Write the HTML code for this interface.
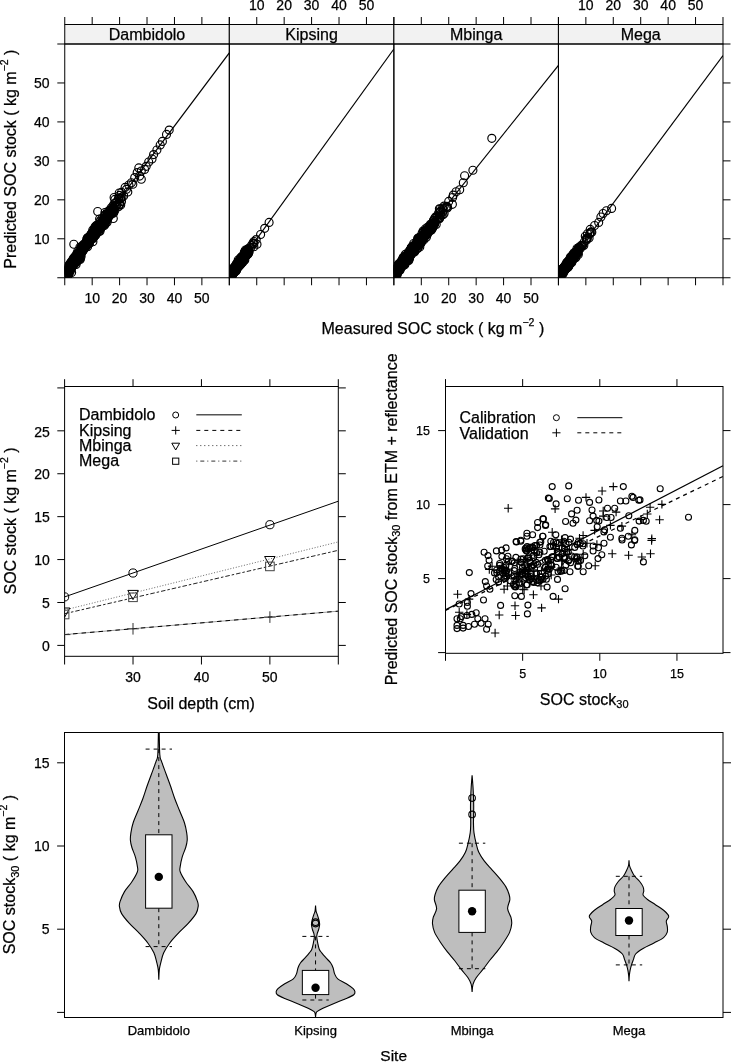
<!DOCTYPE html>
<html><head><meta charset="utf-8"><style>
html,body{margin:0;padding:0;background:#fff;}
svg{display:block;font-family:"Liberation Sans", sans-serif;will-change:transform;}
text{fill:#000;stroke:#000;stroke-width:0.25px;}
</style></head><body>
<svg width="731" height="1062" viewBox="0 0 731 1062">
<rect width="731" height="1062" fill="#fff"/>
<rect x="64.75" y="24.50" width="164.56" height="19.50" fill="#f2f2f2" stroke="#000" stroke-width="1"/>
<rect x="229.31" y="24.50" width="164.56" height="19.50" fill="#f2f2f2" stroke="#000" stroke-width="1"/>
<rect x="393.87" y="24.50" width="164.56" height="19.50" fill="#f2f2f2" stroke="#000" stroke-width="1"/>
<rect x="558.43" y="24.50" width="164.56" height="19.50" fill="#f2f2f2" stroke="#000" stroke-width="1"/>
<text x="147.03" y="39.80" font-size="16" text-anchor="middle">Dambidolo</text>
<text x="311.59" y="39.80" font-size="16" text-anchor="middle">Kipsing</text>
<text x="476.15" y="39.80" font-size="16" text-anchor="middle">Mbinga</text>
<text x="640.71" y="39.80" font-size="16" text-anchor="middle">Mega</text>
<line x1="64.75" y1="17.00" x2="64.75" y2="24.50" stroke="#000" stroke-width="1"/>
<line x1="64.75" y1="277.75" x2="64.75" y2="285.25" stroke="#000" stroke-width="1"/>
<line x1="92.18" y1="17.00" x2="92.18" y2="24.50" stroke="#000" stroke-width="1"/>
<line x1="92.18" y1="277.75" x2="92.18" y2="285.25" stroke="#000" stroke-width="1"/>
<line x1="119.60" y1="17.00" x2="119.60" y2="24.50" stroke="#000" stroke-width="1"/>
<line x1="119.60" y1="277.75" x2="119.60" y2="285.25" stroke="#000" stroke-width="1"/>
<line x1="147.03" y1="17.00" x2="147.03" y2="24.50" stroke="#000" stroke-width="1"/>
<line x1="147.03" y1="277.75" x2="147.03" y2="285.25" stroke="#000" stroke-width="1"/>
<line x1="174.46" y1="17.00" x2="174.46" y2="24.50" stroke="#000" stroke-width="1"/>
<line x1="174.46" y1="277.75" x2="174.46" y2="285.25" stroke="#000" stroke-width="1"/>
<line x1="201.88" y1="17.00" x2="201.88" y2="24.50" stroke="#000" stroke-width="1"/>
<line x1="201.88" y1="277.75" x2="201.88" y2="285.25" stroke="#000" stroke-width="1"/>
<line x1="229.31" y1="17.00" x2="229.31" y2="24.50" stroke="#000" stroke-width="1"/>
<line x1="229.31" y1="277.75" x2="229.31" y2="285.25" stroke="#000" stroke-width="1"/>
<line x1="229.31" y1="17.00" x2="229.31" y2="24.50" stroke="#000" stroke-width="1"/>
<line x1="229.31" y1="277.75" x2="229.31" y2="285.25" stroke="#000" stroke-width="1"/>
<line x1="256.74" y1="17.00" x2="256.74" y2="24.50" stroke="#000" stroke-width="1"/>
<line x1="256.74" y1="277.75" x2="256.74" y2="285.25" stroke="#000" stroke-width="1"/>
<line x1="284.16" y1="17.00" x2="284.16" y2="24.50" stroke="#000" stroke-width="1"/>
<line x1="284.16" y1="277.75" x2="284.16" y2="285.25" stroke="#000" stroke-width="1"/>
<line x1="311.59" y1="17.00" x2="311.59" y2="24.50" stroke="#000" stroke-width="1"/>
<line x1="311.59" y1="277.75" x2="311.59" y2="285.25" stroke="#000" stroke-width="1"/>
<line x1="339.02" y1="17.00" x2="339.02" y2="24.50" stroke="#000" stroke-width="1"/>
<line x1="339.02" y1="277.75" x2="339.02" y2="285.25" stroke="#000" stroke-width="1"/>
<line x1="366.44" y1="17.00" x2="366.44" y2="24.50" stroke="#000" stroke-width="1"/>
<line x1="366.44" y1="277.75" x2="366.44" y2="285.25" stroke="#000" stroke-width="1"/>
<line x1="393.87" y1="17.00" x2="393.87" y2="24.50" stroke="#000" stroke-width="1"/>
<line x1="393.87" y1="277.75" x2="393.87" y2="285.25" stroke="#000" stroke-width="1"/>
<line x1="393.87" y1="17.00" x2="393.87" y2="24.50" stroke="#000" stroke-width="1"/>
<line x1="393.87" y1="277.75" x2="393.87" y2="285.25" stroke="#000" stroke-width="1"/>
<line x1="421.30" y1="17.00" x2="421.30" y2="24.50" stroke="#000" stroke-width="1"/>
<line x1="421.30" y1="277.75" x2="421.30" y2="285.25" stroke="#000" stroke-width="1"/>
<line x1="448.72" y1="17.00" x2="448.72" y2="24.50" stroke="#000" stroke-width="1"/>
<line x1="448.72" y1="277.75" x2="448.72" y2="285.25" stroke="#000" stroke-width="1"/>
<line x1="476.15" y1="17.00" x2="476.15" y2="24.50" stroke="#000" stroke-width="1"/>
<line x1="476.15" y1="277.75" x2="476.15" y2="285.25" stroke="#000" stroke-width="1"/>
<line x1="503.58" y1="17.00" x2="503.58" y2="24.50" stroke="#000" stroke-width="1"/>
<line x1="503.58" y1="277.75" x2="503.58" y2="285.25" stroke="#000" stroke-width="1"/>
<line x1="531.00" y1="17.00" x2="531.00" y2="24.50" stroke="#000" stroke-width="1"/>
<line x1="531.00" y1="277.75" x2="531.00" y2="285.25" stroke="#000" stroke-width="1"/>
<line x1="558.43" y1="17.00" x2="558.43" y2="24.50" stroke="#000" stroke-width="1"/>
<line x1="558.43" y1="277.75" x2="558.43" y2="285.25" stroke="#000" stroke-width="1"/>
<line x1="558.43" y1="17.00" x2="558.43" y2="24.50" stroke="#000" stroke-width="1"/>
<line x1="558.43" y1="277.75" x2="558.43" y2="285.25" stroke="#000" stroke-width="1"/>
<line x1="585.86" y1="17.00" x2="585.86" y2="24.50" stroke="#000" stroke-width="1"/>
<line x1="585.86" y1="277.75" x2="585.86" y2="285.25" stroke="#000" stroke-width="1"/>
<line x1="613.28" y1="17.00" x2="613.28" y2="24.50" stroke="#000" stroke-width="1"/>
<line x1="613.28" y1="277.75" x2="613.28" y2="285.25" stroke="#000" stroke-width="1"/>
<line x1="640.71" y1="17.00" x2="640.71" y2="24.50" stroke="#000" stroke-width="1"/>
<line x1="640.71" y1="277.75" x2="640.71" y2="285.25" stroke="#000" stroke-width="1"/>
<line x1="668.14" y1="17.00" x2="668.14" y2="24.50" stroke="#000" stroke-width="1"/>
<line x1="668.14" y1="277.75" x2="668.14" y2="285.25" stroke="#000" stroke-width="1"/>
<line x1="695.56" y1="17.00" x2="695.56" y2="24.50" stroke="#000" stroke-width="1"/>
<line x1="695.56" y1="277.75" x2="695.56" y2="285.25" stroke="#000" stroke-width="1"/>
<line x1="722.99" y1="17.00" x2="722.99" y2="24.50" stroke="#000" stroke-width="1"/>
<line x1="722.99" y1="277.75" x2="722.99" y2="285.25" stroke="#000" stroke-width="1"/>
<line x1="57.30" y1="277.75" x2="64.75" y2="277.75" stroke="#000" stroke-width="1"/>
<line x1="722.99" y1="277.75" x2="730.50" y2="277.75" stroke="#000" stroke-width="1"/>
<line x1="57.30" y1="238.79" x2="64.75" y2="238.79" stroke="#000" stroke-width="1"/>
<line x1="722.99" y1="238.79" x2="730.50" y2="238.79" stroke="#000" stroke-width="1"/>
<text x="49.60" y="243.79" font-size="14" text-anchor="end">10</text>
<line x1="57.30" y1="199.83" x2="64.75" y2="199.83" stroke="#000" stroke-width="1"/>
<line x1="722.99" y1="199.83" x2="730.50" y2="199.83" stroke="#000" stroke-width="1"/>
<text x="49.60" y="204.83" font-size="14" text-anchor="end">20</text>
<line x1="57.30" y1="160.88" x2="64.75" y2="160.88" stroke="#000" stroke-width="1"/>
<line x1="722.99" y1="160.88" x2="730.50" y2="160.88" stroke="#000" stroke-width="1"/>
<text x="49.60" y="165.88" font-size="14" text-anchor="end">30</text>
<line x1="57.30" y1="121.92" x2="64.75" y2="121.92" stroke="#000" stroke-width="1"/>
<line x1="722.99" y1="121.92" x2="730.50" y2="121.92" stroke="#000" stroke-width="1"/>
<text x="49.60" y="126.92" font-size="14" text-anchor="end">40</text>
<line x1="57.30" y1="82.96" x2="64.75" y2="82.96" stroke="#000" stroke-width="1"/>
<line x1="722.99" y1="82.96" x2="730.50" y2="82.96" stroke="#000" stroke-width="1"/>
<text x="49.60" y="87.96" font-size="14" text-anchor="end">50</text>
<line x1="57.30" y1="44.00" x2="64.75" y2="44.00" stroke="#000" stroke-width="1"/>
<line x1="722.99" y1="44.00" x2="730.50" y2="44.00" stroke="#000" stroke-width="1"/>
<text x="92.18" y="302.80" font-size="14" text-anchor="middle">10</text>
<text x="119.60" y="302.80" font-size="14" text-anchor="middle">20</text>
<text x="147.03" y="302.80" font-size="14" text-anchor="middle">30</text>
<text x="174.46" y="302.80" font-size="14" text-anchor="middle">40</text>
<text x="201.88" y="302.80" font-size="14" text-anchor="middle">50</text>
<text x="256.74" y="9.70" font-size="14" text-anchor="middle">10</text>
<text x="284.16" y="9.70" font-size="14" text-anchor="middle">20</text>
<text x="311.59" y="9.70" font-size="14" text-anchor="middle">30</text>
<text x="339.02" y="9.70" font-size="14" text-anchor="middle">40</text>
<text x="366.44" y="9.70" font-size="14" text-anchor="middle">50</text>
<text x="421.30" y="302.80" font-size="14" text-anchor="middle">10</text>
<text x="448.72" y="302.80" font-size="14" text-anchor="middle">20</text>
<text x="476.15" y="302.80" font-size="14" text-anchor="middle">30</text>
<text x="503.58" y="302.80" font-size="14" text-anchor="middle">40</text>
<text x="531.00" y="302.80" font-size="14" text-anchor="middle">50</text>
<text x="585.86" y="9.70" font-size="14" text-anchor="middle">10</text>
<text x="613.28" y="9.70" font-size="14" text-anchor="middle">20</text>
<text x="640.71" y="9.70" font-size="14" text-anchor="middle">30</text>
<text x="668.14" y="9.70" font-size="14" text-anchor="middle">40</text>
<text x="695.56" y="9.70" font-size="14" text-anchor="middle">50</text>
<g fill="none" stroke="#000" stroke-width="1.15">
<clipPath id="cp0"><rect x="64.75" y="44.0" width="164.56" height="233.75"/></clipPath>
<g clip-path="url(#cp0)">
<circle cx="73.6" cy="258.1" r="4"/>
<circle cx="77.1" cy="258.4" r="4"/>
<circle cx="75.6" cy="261.6" r="4"/>
<circle cx="68.5" cy="268.8" r="4"/>
<circle cx="69.4" cy="264.9" r="4"/>
<circle cx="76.8" cy="260.7" r="4"/>
<circle cx="65.6" cy="274.2" r="4"/>
<circle cx="76.2" cy="259.7" r="4"/>
<circle cx="75.8" cy="262.8" r="4"/>
<circle cx="71.6" cy="263.3" r="4"/>
<circle cx="69.5" cy="268.2" r="4"/>
<circle cx="69.2" cy="268.4" r="4"/>
<circle cx="68.9" cy="270.8" r="4"/>
<circle cx="71.3" cy="264.3" r="4"/>
<circle cx="72.1" cy="265.5" r="4"/>
<circle cx="72.7" cy="263.7" r="4"/>
<circle cx="78.4" cy="257.6" r="4"/>
<circle cx="75.8" cy="261.7" r="4"/>
<circle cx="73.6" cy="258.9" r="4"/>
<circle cx="78.3" cy="256.3" r="4"/>
<circle cx="68.3" cy="269.1" r="4"/>
<circle cx="67.6" cy="270.9" r="4"/>
<circle cx="73.5" cy="263.3" r="4"/>
<circle cx="66.1" cy="274.2" r="4"/>
<circle cx="66.0" cy="271.7" r="4"/>
<circle cx="72.2" cy="264.8" r="4"/>
<circle cx="71.6" cy="265.4" r="4"/>
<circle cx="77.4" cy="256.4" r="4"/>
<circle cx="73.7" cy="259.2" r="4"/>
<circle cx="72.2" cy="262.5" r="4"/>
<circle cx="72.0" cy="263.5" r="4"/>
<circle cx="68.8" cy="270.5" r="4"/>
<circle cx="65.7" cy="276.9" r="4"/>
<circle cx="68.1" cy="268.0" r="4"/>
<circle cx="74.5" cy="258.5" r="4"/>
<circle cx="68.2" cy="270.4" r="4"/>
<circle cx="70.3" cy="265.6" r="4"/>
<circle cx="65.6" cy="271.9" r="4"/>
<circle cx="76.3" cy="256.2" r="4"/>
<circle cx="67.6" cy="268.8" r="4"/>
<circle cx="69.0" cy="269.8" r="4"/>
<circle cx="76.9" cy="253.6" r="4"/>
<circle cx="72.1" cy="267.1" r="4"/>
<circle cx="76.5" cy="255.8" r="4"/>
<circle cx="73.8" cy="260.6" r="4"/>
<circle cx="75.1" cy="257.7" r="4"/>
<circle cx="66.8" cy="267.7" r="4"/>
<circle cx="72.5" cy="260.1" r="4"/>
<circle cx="72.1" cy="266.9" r="4"/>
<circle cx="76.8" cy="261.3" r="4"/>
<circle cx="70.2" cy="265.1" r="4"/>
<circle cx="73.3" cy="264.9" r="4"/>
<circle cx="66.3" cy="272.8" r="4"/>
<circle cx="70.6" cy="264.5" r="4"/>
<circle cx="69.7" cy="271.6" r="4"/>
<circle cx="67.5" cy="275.9" r="4"/>
<circle cx="76.1" cy="257.8" r="4"/>
<circle cx="70.5" cy="266.6" r="4"/>
<circle cx="78.2" cy="255.9" r="4"/>
<circle cx="73.2" cy="262.6" r="4"/>
<circle cx="73.4" cy="264.4" r="4"/>
<circle cx="73.8" cy="265.3" r="4"/>
<circle cx="74.3" cy="261.4" r="4"/>
<circle cx="67.5" cy="273.3" r="4"/>
<circle cx="71.2" cy="269.3" r="4"/>
<circle cx="68.7" cy="268.1" r="4"/>
<circle cx="70.8" cy="266.4" r="4"/>
<circle cx="66.8" cy="271.1" r="4"/>
<circle cx="78.0" cy="257.8" r="4"/>
<circle cx="68.3" cy="271.3" r="4"/>
<circle cx="74.2" cy="263.4" r="4"/>
<circle cx="69.4" cy="270.2" r="4"/>
<circle cx="76.8" cy="256.8" r="4"/>
<circle cx="74.1" cy="263.1" r="4"/>
<circle cx="67.3" cy="270.5" r="4"/>
<circle cx="76.5" cy="257.0" r="4"/>
<circle cx="77.8" cy="251.2" r="4"/>
<circle cx="77.2" cy="260.0" r="4"/>
<circle cx="72.9" cy="261.0" r="4"/>
<circle cx="67.4" cy="271.3" r="4"/>
<circle cx="68.1" cy="270.2" r="4"/>
<circle cx="77.5" cy="259.6" r="4"/>
<circle cx="72.7" cy="264.4" r="4"/>
<circle cx="67.9" cy="268.7" r="4"/>
<circle cx="77.0" cy="257.3" r="4"/>
<circle cx="73.8" cy="261.5" r="4"/>
<circle cx="72.9" cy="263.7" r="4"/>
<circle cx="70.4" cy="264.0" r="4"/>
<circle cx="70.9" cy="266.1" r="4"/>
<circle cx="68.7" cy="274.5" r="4"/>
<circle cx="66.1" cy="274.7" r="4"/>
<circle cx="76.9" cy="261.8" r="4"/>
<circle cx="71.6" cy="272.6" r="4"/>
<circle cx="72.6" cy="264.7" r="4"/>
<circle cx="69.7" cy="264.6" r="4"/>
<circle cx="75.3" cy="259.5" r="4"/>
<circle cx="65.9" cy="276.1" r="4"/>
<circle cx="70.4" cy="269.0" r="4"/>
<circle cx="66.0" cy="270.6" r="4"/>
<circle cx="67.2" cy="271.2" r="4"/>
<circle cx="78.0" cy="255.4" r="4"/>
<circle cx="74.1" cy="261.5" r="4"/>
<circle cx="71.1" cy="265.6" r="4"/>
<circle cx="72.3" cy="262.0" r="4"/>
<circle cx="76.8" cy="256.0" r="4"/>
<circle cx="70.0" cy="266.8" r="4"/>
<circle cx="73.2" cy="265.1" r="4"/>
<circle cx="74.4" cy="259.7" r="4"/>
<circle cx="70.2" cy="268.7" r="4"/>
<circle cx="72.3" cy="261.4" r="4"/>
<circle cx="75.4" cy="262.3" r="4"/>
<circle cx="77.3" cy="256.9" r="4"/>
<circle cx="67.5" cy="271.0" r="4"/>
<circle cx="77.6" cy="259.2" r="4"/>
<circle cx="65.6" cy="269.7" r="4"/>
<circle cx="75.3" cy="256.1" r="4"/>
<circle cx="76.0" cy="259.6" r="4"/>
<circle cx="67.3" cy="269.5" r="4"/>
<circle cx="71.0" cy="265.0" r="4"/>
<circle cx="76.1" cy="264.5" r="4"/>
<circle cx="65.8" cy="273.0" r="4"/>
<circle cx="73.7" cy="262.1" r="4"/>
<circle cx="75.8" cy="258.6" r="4"/>
<circle cx="72.2" cy="266.6" r="4"/>
<circle cx="74.9" cy="260.7" r="4"/>
<circle cx="68.5" cy="270.0" r="4"/>
<circle cx="68.1" cy="267.3" r="4"/>
<circle cx="70.3" cy="266.2" r="4"/>
<circle cx="67.9" cy="270.5" r="4"/>
<circle cx="70.0" cy="263.7" r="4"/>
<circle cx="77.8" cy="257.2" r="4"/>
<circle cx="73.0" cy="263.9" r="4"/>
<circle cx="70.0" cy="271.7" r="4"/>
<circle cx="69.1" cy="265.0" r="4"/>
<circle cx="77.8" cy="253.5" r="4"/>
<circle cx="71.3" cy="263.3" r="4"/>
<circle cx="78.2" cy="253.7" r="4"/>
<circle cx="72.2" cy="263.8" r="4"/>
<circle cx="72.3" cy="263.5" r="4"/>
<circle cx="77.1" cy="257.4" r="4"/>
<circle cx="75.1" cy="260.2" r="4"/>
<circle cx="73.1" cy="262.7" r="4"/>
<circle cx="71.1" cy="262.2" r="4"/>
<circle cx="76.9" cy="255.9" r="4"/>
<circle cx="70.9" cy="266.2" r="4"/>
<circle cx="77.5" cy="257.7" r="4"/>
<circle cx="66.5" cy="274.0" r="4"/>
<circle cx="71.1" cy="262.0" r="4"/>
<circle cx="72.3" cy="262.8" r="4"/>
<circle cx="77.8" cy="255.7" r="4"/>
<circle cx="68.8" cy="269.9" r="4"/>
<circle cx="76.0" cy="261.1" r="4"/>
<circle cx="74.3" cy="261.2" r="4"/>
<circle cx="74.8" cy="258.2" r="4"/>
<circle cx="73.7" cy="262.8" r="4"/>
<circle cx="78.1" cy="256.0" r="4"/>
<circle cx="69.9" cy="268.1" r="4"/>
<circle cx="70.7" cy="266.0" r="4"/>
<circle cx="68.2" cy="273.7" r="4"/>
<circle cx="66.2" cy="273.4" r="4"/>
<circle cx="92.1" cy="238.1" r="4"/>
<circle cx="94.3" cy="236.3" r="4"/>
<circle cx="96.1" cy="231.3" r="4"/>
<circle cx="80.8" cy="247.9" r="4"/>
<circle cx="80.2" cy="259.5" r="4"/>
<circle cx="97.4" cy="227.4" r="4"/>
<circle cx="80.7" cy="254.4" r="4"/>
<circle cx="81.9" cy="247.3" r="4"/>
<circle cx="89.5" cy="242.0" r="4"/>
<circle cx="87.0" cy="243.4" r="4"/>
<circle cx="92.9" cy="238.5" r="4"/>
<circle cx="82.1" cy="252.1" r="4"/>
<circle cx="96.0" cy="227.1" r="4"/>
<circle cx="82.6" cy="246.8" r="4"/>
<circle cx="93.2" cy="235.3" r="4"/>
<circle cx="79.8" cy="255.2" r="4"/>
<circle cx="87.6" cy="246.7" r="4"/>
<circle cx="79.1" cy="255.0" r="4"/>
<circle cx="84.5" cy="246.3" r="4"/>
<circle cx="84.5" cy="246.5" r="4"/>
<circle cx="92.3" cy="235.7" r="4"/>
<circle cx="87.2" cy="245.3" r="4"/>
<circle cx="79.6" cy="253.5" r="4"/>
<circle cx="97.6" cy="228.6" r="4"/>
<circle cx="95.5" cy="227.9" r="4"/>
<circle cx="96.1" cy="225.8" r="4"/>
<circle cx="83.2" cy="248.4" r="4"/>
<circle cx="86.0" cy="246.0" r="4"/>
<circle cx="82.8" cy="248.8" r="4"/>
<circle cx="80.9" cy="253.0" r="4"/>
<circle cx="79.1" cy="255.9" r="4"/>
<circle cx="88.1" cy="241.3" r="4"/>
<circle cx="80.8" cy="254.1" r="4"/>
<circle cx="81.8" cy="248.5" r="4"/>
<circle cx="95.0" cy="232.2" r="4"/>
<circle cx="87.8" cy="241.0" r="4"/>
<circle cx="82.0" cy="250.3" r="4"/>
<circle cx="91.3" cy="238.6" r="4"/>
<circle cx="83.6" cy="249.9" r="4"/>
<circle cx="88.6" cy="241.1" r="4"/>
<circle cx="83.9" cy="248.5" r="4"/>
<circle cx="88.4" cy="240.2" r="4"/>
<circle cx="90.5" cy="237.9" r="4"/>
<circle cx="88.8" cy="243.7" r="4"/>
<circle cx="86.1" cy="243.8" r="4"/>
<circle cx="93.6" cy="237.1" r="4"/>
<circle cx="95.2" cy="233.2" r="4"/>
<circle cx="81.9" cy="250.7" r="4"/>
<circle cx="81.1" cy="256.4" r="4"/>
<circle cx="80.6" cy="251.5" r="4"/>
<circle cx="97.3" cy="228.6" r="4"/>
<circle cx="96.5" cy="230.3" r="4"/>
<circle cx="82.9" cy="249.6" r="4"/>
<circle cx="97.1" cy="230.1" r="4"/>
<circle cx="82.5" cy="251.6" r="4"/>
<circle cx="88.2" cy="241.7" r="4"/>
<circle cx="88.0" cy="242.7" r="4"/>
<circle cx="96.0" cy="230.3" r="4"/>
<circle cx="79.2" cy="256.8" r="4"/>
<circle cx="84.5" cy="245.6" r="4"/>
<circle cx="90.0" cy="238.2" r="4"/>
<circle cx="79.7" cy="253.4" r="4"/>
<circle cx="83.0" cy="249.4" r="4"/>
<circle cx="87.4" cy="240.8" r="4"/>
<circle cx="95.4" cy="235.6" r="4"/>
<circle cx="93.1" cy="233.3" r="4"/>
<circle cx="94.4" cy="232.1" r="4"/>
<circle cx="93.1" cy="233.7" r="4"/>
<circle cx="92.1" cy="234.8" r="4"/>
<circle cx="94.8" cy="233.8" r="4"/>
<circle cx="91.5" cy="237.1" r="4"/>
<circle cx="92.6" cy="233.5" r="4"/>
<circle cx="84.3" cy="245.5" r="4"/>
<circle cx="81.7" cy="249.7" r="4"/>
<circle cx="93.0" cy="238.4" r="4"/>
<circle cx="81.6" cy="248.9" r="4"/>
<circle cx="96.1" cy="227.5" r="4"/>
<circle cx="89.9" cy="236.1" r="4"/>
<circle cx="84.8" cy="245.2" r="4"/>
<circle cx="96.4" cy="234.0" r="4"/>
<circle cx="81.4" cy="248.2" r="4"/>
<circle cx="88.3" cy="241.2" r="4"/>
<circle cx="80.2" cy="258.8" r="4"/>
<circle cx="97.0" cy="228.3" r="4"/>
<circle cx="89.5" cy="243.0" r="4"/>
<circle cx="93.9" cy="236.6" r="4"/>
<circle cx="83.9" cy="248.7" r="4"/>
<circle cx="93.9" cy="230.2" r="4"/>
<circle cx="92.0" cy="236.9" r="4"/>
<circle cx="90.8" cy="236.8" r="4"/>
<circle cx="96.7" cy="225.2" r="4"/>
<circle cx="86.8" cy="239.0" r="4"/>
<circle cx="86.4" cy="243.8" r="4"/>
<circle cx="91.8" cy="236.8" r="4"/>
<circle cx="94.5" cy="235.8" r="4"/>
<circle cx="84.9" cy="247.4" r="4"/>
<circle cx="91.3" cy="235.7" r="4"/>
<circle cx="82.5" cy="248.1" r="4"/>
<circle cx="89.1" cy="239.6" r="4"/>
<circle cx="93.2" cy="231.7" r="4"/>
<circle cx="79.7" cy="255.0" r="4"/>
<circle cx="92.4" cy="235.4" r="4"/>
<circle cx="78.8" cy="252.6" r="4"/>
<circle cx="96.9" cy="228.0" r="4"/>
<circle cx="87.5" cy="239.4" r="4"/>
<circle cx="86.3" cy="242.7" r="4"/>
<circle cx="92.3" cy="236.3" r="4"/>
<circle cx="88.5" cy="239.7" r="4"/>
<circle cx="92.5" cy="237.8" r="4"/>
<circle cx="80.1" cy="256.7" r="4"/>
<circle cx="89.3" cy="238.1" r="4"/>
<circle cx="89.2" cy="239.8" r="4"/>
<circle cx="96.4" cy="229.3" r="4"/>
<circle cx="79.2" cy="258.1" r="4"/>
<circle cx="87.2" cy="243.4" r="4"/>
<circle cx="90.6" cy="239.3" r="4"/>
<circle cx="89.0" cy="242.1" r="4"/>
<circle cx="79.9" cy="258.5" r="4"/>
<circle cx="89.9" cy="239.6" r="4"/>
<circle cx="82.7" cy="246.5" r="4"/>
<circle cx="82.2" cy="248.5" r="4"/>
<circle cx="95.3" cy="233.0" r="4"/>
<circle cx="82.3" cy="249.4" r="4"/>
<circle cx="87.2" cy="240.5" r="4"/>
<circle cx="92.9" cy="241.7" r="4"/>
<circle cx="92.0" cy="236.1" r="4"/>
<circle cx="89.1" cy="238.4" r="4"/>
<circle cx="94.0" cy="231.5" r="4"/>
<circle cx="87.4" cy="237.8" r="4"/>
<circle cx="90.4" cy="235.2" r="4"/>
<circle cx="94.2" cy="232.2" r="4"/>
<circle cx="91.5" cy="235.8" r="4"/>
<circle cx="90.8" cy="235.5" r="4"/>
<circle cx="86.3" cy="245.1" r="4"/>
<circle cx="89.2" cy="239.8" r="4"/>
<circle cx="86.1" cy="241.7" r="4"/>
<circle cx="92.8" cy="229.9" r="4"/>
<circle cx="85.8" cy="244.8" r="4"/>
<circle cx="87.4" cy="242.2" r="4"/>
<circle cx="93.0" cy="234.1" r="4"/>
<circle cx="88.1" cy="237.7" r="4"/>
<circle cx="85.0" cy="245.6" r="4"/>
<circle cx="94.3" cy="229.0" r="4"/>
<circle cx="85.8" cy="246.9" r="4"/>
<circle cx="94.7" cy="232.8" r="4"/>
<circle cx="93.5" cy="234.3" r="4"/>
<circle cx="87.1" cy="240.6" r="4"/>
<circle cx="92.1" cy="233.0" r="4"/>
<circle cx="79.1" cy="257.8" r="4"/>
<circle cx="85.9" cy="246.5" r="4"/>
<circle cx="95.0" cy="231.1" r="4"/>
<circle cx="89.6" cy="240.8" r="4"/>
<circle cx="89.2" cy="243.6" r="4"/>
<circle cx="91.2" cy="234.3" r="4"/>
<circle cx="91.5" cy="235.3" r="4"/>
<circle cx="89.7" cy="237.8" r="4"/>
<circle cx="86.5" cy="244.5" r="4"/>
<circle cx="82.0" cy="247.2" r="4"/>
<circle cx="84.1" cy="247.4" r="4"/>
<circle cx="84.1" cy="244.0" r="4"/>
<circle cx="86.7" cy="245.4" r="4"/>
<circle cx="97.6" cy="230.6" r="4"/>
<circle cx="85.2" cy="244.7" r="4"/>
<circle cx="87.1" cy="244.4" r="4"/>
<circle cx="85.6" cy="243.0" r="4"/>
<circle cx="89.6" cy="238.4" r="4"/>
<circle cx="96.7" cy="232.1" r="4"/>
<circle cx="95.5" cy="231.0" r="4"/>
<circle cx="85.7" cy="245.4" r="4"/>
<circle cx="83.6" cy="245.2" r="4"/>
<circle cx="95.4" cy="232.9" r="4"/>
<circle cx="87.9" cy="242.5" r="4"/>
<circle cx="91.6" cy="233.3" r="4"/>
<circle cx="79.9" cy="247.2" r="4"/>
<circle cx="95.1" cy="226.7" r="4"/>
<circle cx="84.5" cy="246.1" r="4"/>
<circle cx="88.0" cy="240.8" r="4"/>
<circle cx="82.3" cy="245.5" r="4"/>
<circle cx="86.5" cy="243.7" r="4"/>
<circle cx="94.4" cy="235.2" r="4"/>
<circle cx="102.0" cy="222.6" r="4"/>
<circle cx="111.0" cy="212.9" r="4"/>
<circle cx="105.4" cy="214.5" r="4"/>
<circle cx="105.1" cy="224.3" r="4"/>
<circle cx="113.6" cy="210.1" r="4"/>
<circle cx="102.9" cy="223.2" r="4"/>
<circle cx="98.3" cy="225.7" r="4"/>
<circle cx="104.1" cy="218.6" r="4"/>
<circle cx="100.2" cy="221.4" r="4"/>
<circle cx="99.0" cy="231.0" r="4"/>
<circle cx="107.0" cy="214.5" r="4"/>
<circle cx="113.4" cy="209.4" r="4"/>
<circle cx="107.2" cy="218.2" r="4"/>
<circle cx="108.3" cy="213.5" r="4"/>
<circle cx="103.0" cy="224.1" r="4"/>
<circle cx="107.1" cy="222.2" r="4"/>
<circle cx="110.0" cy="213.8" r="4"/>
<circle cx="107.4" cy="220.2" r="4"/>
<circle cx="110.9" cy="213.5" r="4"/>
<circle cx="106.7" cy="215.9" r="4"/>
<circle cx="100.9" cy="223.4" r="4"/>
<circle cx="107.3" cy="211.9" r="4"/>
<circle cx="105.7" cy="218.7" r="4"/>
<circle cx="100.4" cy="229.1" r="4"/>
<circle cx="107.9" cy="217.6" r="4"/>
<circle cx="111.1" cy="213.9" r="4"/>
<circle cx="99.9" cy="228.9" r="4"/>
<circle cx="106.6" cy="215.9" r="4"/>
<circle cx="109.7" cy="214.9" r="4"/>
<circle cx="104.3" cy="225.4" r="4"/>
<circle cx="102.1" cy="220.9" r="4"/>
<circle cx="103.8" cy="220.9" r="4"/>
<circle cx="106.6" cy="216.1" r="4"/>
<circle cx="109.0" cy="213.8" r="4"/>
<circle cx="106.9" cy="215.0" r="4"/>
<circle cx="99.4" cy="226.1" r="4"/>
<circle cx="111.1" cy="208.0" r="4"/>
<circle cx="112.9" cy="208.0" r="4"/>
<circle cx="99.3" cy="225.2" r="4"/>
<circle cx="101.8" cy="222.1" r="4"/>
<circle cx="100.5" cy="228.7" r="4"/>
<circle cx="111.6" cy="211.2" r="4"/>
<circle cx="112.6" cy="210.2" r="4"/>
<circle cx="98.4" cy="226.9" r="4"/>
<circle cx="103.1" cy="225.2" r="4"/>
<circle cx="100.8" cy="219.9" r="4"/>
<circle cx="105.4" cy="218.3" r="4"/>
<circle cx="112.8" cy="212.5" r="4"/>
<circle cx="98.8" cy="231.6" r="4"/>
<circle cx="100.5" cy="225.6" r="4"/>
<circle cx="105.7" cy="218.5" r="4"/>
<circle cx="106.3" cy="219.4" r="4"/>
<circle cx="109.9" cy="212.6" r="4"/>
<circle cx="104.9" cy="221.0" r="4"/>
<circle cx="100.0" cy="223.9" r="4"/>
<circle cx="103.5" cy="223.0" r="4"/>
<circle cx="113.8" cy="208.1" r="4"/>
<circle cx="110.0" cy="210.1" r="4"/>
<circle cx="99.6" cy="219.0" r="4"/>
<circle cx="111.0" cy="214.3" r="4"/>
<circle cx="102.8" cy="223.2" r="4"/>
<circle cx="110.5" cy="214.4" r="4"/>
<circle cx="97.9" cy="226.0" r="4"/>
<circle cx="112.0" cy="213.4" r="4"/>
<circle cx="100.3" cy="226.3" r="4"/>
<circle cx="105.2" cy="219.0" r="4"/>
<circle cx="108.6" cy="217.3" r="4"/>
<circle cx="106.0" cy="220.4" r="4"/>
<circle cx="100.4" cy="226.2" r="4"/>
<circle cx="100.0" cy="231.2" r="4"/>
<circle cx="102.3" cy="226.4" r="4"/>
<circle cx="98.5" cy="228.4" r="4"/>
<circle cx="101.2" cy="223.5" r="4"/>
<circle cx="99.8" cy="226.2" r="4"/>
<circle cx="105.3" cy="223.5" r="4"/>
<circle cx="103.5" cy="222.2" r="4"/>
<circle cx="107.3" cy="214.0" r="4"/>
<circle cx="102.3" cy="221.0" r="4"/>
<circle cx="98.2" cy="227.9" r="4"/>
<circle cx="103.1" cy="223.9" r="4"/>
<circle cx="110.1" cy="211.0" r="4"/>
<circle cx="101.9" cy="224.6" r="4"/>
<circle cx="104.3" cy="223.1" r="4"/>
<circle cx="110.1" cy="214.9" r="4"/>
<circle cx="104.4" cy="216.0" r="4"/>
<circle cx="112.3" cy="209.3" r="4"/>
<circle cx="112.8" cy="206.1" r="4"/>
<circle cx="102.8" cy="223.2" r="4"/>
<circle cx="109.8" cy="210.5" r="4"/>
<circle cx="101.8" cy="224.7" r="4"/>
<circle cx="100.0" cy="225.9" r="4"/>
<circle cx="104.9" cy="212.5" r="4"/>
<circle cx="107.6" cy="213.8" r="4"/>
<circle cx="113.1" cy="210.3" r="4"/>
<circle cx="100.1" cy="225.6" r="4"/>
<circle cx="109.4" cy="212.7" r="4"/>
<circle cx="105.5" cy="215.2" r="4"/>
<circle cx="99.8" cy="227.0" r="4"/>
<circle cx="113.7" cy="212.9" r="4"/>
<circle cx="109.1" cy="214.7" r="4"/>
<circle cx="115.2" cy="206.7" r="4"/>
<circle cx="119.3" cy="204.9" r="4"/>
<circle cx="114.9" cy="206.6" r="4"/>
<circle cx="115.4" cy="202.9" r="4"/>
<circle cx="121.5" cy="201.4" r="4"/>
<circle cx="116.9" cy="204.9" r="4"/>
<circle cx="116.9" cy="201.8" r="4"/>
<circle cx="114.8" cy="210.4" r="4"/>
<circle cx="120.7" cy="198.5" r="4"/>
<circle cx="119.7" cy="204.2" r="4"/>
<circle cx="118.6" cy="197.8" r="4"/>
<circle cx="119.2" cy="193.0" r="4"/>
<circle cx="114.9" cy="199.4" r="4"/>
<circle cx="116.3" cy="205.6" r="4"/>
<circle cx="118.9" cy="198.8" r="4"/>
<circle cx="122.0" cy="197.1" r="4"/>
<circle cx="120.8" cy="198.6" r="4"/>
<circle cx="119.4" cy="195.4" r="4"/>
<circle cx="118.4" cy="206.7" r="4"/>
<circle cx="114.2" cy="203.7" r="4"/>
<circle cx="97.7" cy="211.5" r="4"/>
<circle cx="73.8" cy="244.2" r="4"/>
<circle cx="169.2" cy="130.1" r="4"/>
<circle cx="166.5" cy="134.4" r="4"/>
<circle cx="162.4" cy="141.4" r="4"/>
<circle cx="160.2" cy="144.9" r="4"/>
<circle cx="156.9" cy="150.0" r="4"/>
<circle cx="153.6" cy="154.6" r="4"/>
<circle cx="152.0" cy="158.9" r="4"/>
<circle cx="148.7" cy="162.0" r="4"/>
<circle cx="146.2" cy="166.3" r="4"/>
<circle cx="144.6" cy="169.4" r="4"/>
<circle cx="141.3" cy="171.0" r="4"/>
<circle cx="139.6" cy="176.1" r="4"/>
<circle cx="138.8" cy="167.9" r="4"/>
<circle cx="137.2" cy="172.6" r="4"/>
<circle cx="141.3" cy="179.2" r="4"/>
<circle cx="134.7" cy="177.6" r="4"/>
<circle cx="131.4" cy="182.7" r="4"/>
<circle cx="128.9" cy="185.0" r="4"/>
<circle cx="126.5" cy="189.3" r="4"/>
<circle cx="121.5" cy="192.4" r="4"/>
<circle cx="120.7" cy="204.9" r="4"/>
<circle cx="114.1" cy="197.5" r="4"/>
<circle cx="113.3" cy="218.5" r="4"/>
<circle cx="132.8" cy="184.2" r="4"/>
<circle cx="127.8" cy="192.0" r="4"/>
<circle cx="123.7" cy="195.9" r="4"/>
<circle cx="125.1" cy="187.4" r="4"/>
<line x1="64.75" y1="272.3" x2="229.31" y2="52.9" stroke-width="1.2"/>
</g>
<clipPath id="cp1"><rect x="229.31" y="44.0" width="164.56" height="233.75"/></clipPath>
<g clip-path="url(#cp1)">
<circle cx="233.0" cy="272.8" r="4"/>
<circle cx="235.3" cy="269.3" r="4"/>
<circle cx="235.5" cy="269.3" r="4"/>
<circle cx="231.9" cy="273.2" r="4"/>
<circle cx="231.6" cy="274.7" r="4"/>
<circle cx="235.8" cy="266.4" r="4"/>
<circle cx="233.0" cy="272.9" r="4"/>
<circle cx="230.5" cy="277.4" r="4"/>
<circle cx="230.1" cy="276.8" r="4"/>
<circle cx="236.1" cy="270.3" r="4"/>
<circle cx="233.5" cy="271.2" r="4"/>
<circle cx="230.2" cy="274.3" r="4"/>
<circle cx="233.1" cy="270.8" r="4"/>
<circle cx="233.0" cy="273.6" r="4"/>
<circle cx="232.6" cy="273.4" r="4"/>
<circle cx="235.9" cy="265.4" r="4"/>
<circle cx="235.8" cy="267.5" r="4"/>
<circle cx="230.6" cy="275.1" r="4"/>
<circle cx="230.8" cy="273.4" r="4"/>
<circle cx="232.4" cy="269.3" r="4"/>
<circle cx="235.1" cy="267.1" r="4"/>
<circle cx="233.8" cy="270.5" r="4"/>
<circle cx="234.5" cy="269.3" r="4"/>
<circle cx="233.5" cy="270.3" r="4"/>
<circle cx="231.2" cy="275.2" r="4"/>
<circle cx="235.0" cy="270.5" r="4"/>
<circle cx="229.9" cy="276.0" r="4"/>
<circle cx="234.3" cy="271.4" r="4"/>
<circle cx="231.1" cy="274.6" r="4"/>
<circle cx="232.8" cy="271.9" r="4"/>
<circle cx="236.0" cy="264.5" r="4"/>
<circle cx="233.3" cy="272.6" r="4"/>
<circle cx="230.2" cy="275.9" r="4"/>
<circle cx="232.6" cy="272.7" r="4"/>
<circle cx="234.0" cy="269.8" r="4"/>
<circle cx="230.2" cy="274.3" r="4"/>
<circle cx="231.5" cy="274.7" r="4"/>
<circle cx="230.0" cy="277.2" r="4"/>
<circle cx="233.3" cy="273.7" r="4"/>
<circle cx="232.3" cy="274.1" r="4"/>
<circle cx="233.0" cy="271.1" r="4"/>
<circle cx="231.7" cy="273.6" r="4"/>
<circle cx="234.0" cy="271.8" r="4"/>
<circle cx="231.0" cy="275.2" r="4"/>
<circle cx="235.6" cy="268.2" r="4"/>
<circle cx="235.9" cy="267.1" r="4"/>
<circle cx="233.0" cy="272.7" r="4"/>
<circle cx="232.8" cy="272.5" r="4"/>
<circle cx="235.3" cy="271.2" r="4"/>
<circle cx="231.7" cy="275.2" r="4"/>
<circle cx="234.9" cy="267.0" r="4"/>
<circle cx="231.7" cy="276.7" r="4"/>
<circle cx="234.4" cy="270.4" r="4"/>
<circle cx="232.0" cy="273.0" r="4"/>
<circle cx="233.7" cy="271.4" r="4"/>
<circle cx="235.7" cy="269.2" r="4"/>
<circle cx="230.2" cy="275.8" r="4"/>
<circle cx="235.0" cy="269.1" r="4"/>
<circle cx="233.3" cy="271.6" r="4"/>
<circle cx="232.2" cy="275.4" r="4"/>
<circle cx="232.1" cy="273.3" r="4"/>
<circle cx="230.3" cy="276.8" r="4"/>
<circle cx="231.5" cy="274.7" r="4"/>
<circle cx="233.8" cy="270.4" r="4"/>
<circle cx="230.5" cy="274.5" r="4"/>
<circle cx="234.1" cy="269.1" r="4"/>
<circle cx="235.9" cy="268.4" r="4"/>
<circle cx="236.0" cy="266.3" r="4"/>
<circle cx="235.5" cy="266.8" r="4"/>
<circle cx="234.9" cy="267.6" r="4"/>
<circle cx="231.0" cy="272.8" r="4"/>
<circle cx="236.0" cy="267.9" r="4"/>
<circle cx="231.1" cy="274.7" r="4"/>
<circle cx="235.3" cy="267.5" r="4"/>
<circle cx="235.4" cy="270.4" r="4"/>
<circle cx="233.8" cy="270.5" r="4"/>
<circle cx="233.1" cy="272.4" r="4"/>
<circle cx="231.1" cy="275.0" r="4"/>
<circle cx="233.1" cy="274.0" r="4"/>
<circle cx="231.7" cy="274.9" r="4"/>
<circle cx="230.7" cy="275.1" r="4"/>
<circle cx="230.7" cy="273.9" r="4"/>
<circle cx="234.9" cy="267.8" r="4"/>
<circle cx="235.7" cy="268.2" r="4"/>
<circle cx="230.8" cy="275.2" r="4"/>
<circle cx="229.9" cy="277.2" r="4"/>
<circle cx="231.5" cy="273.3" r="4"/>
<circle cx="230.7" cy="275.4" r="4"/>
<circle cx="231.0" cy="273.7" r="4"/>
<circle cx="233.5" cy="268.7" r="4"/>
<circle cx="232.5" cy="272.5" r="4"/>
<circle cx="232.6" cy="274.5" r="4"/>
<circle cx="231.2" cy="275.6" r="4"/>
<circle cx="234.1" cy="272.4" r="4"/>
<circle cx="231.7" cy="275.3" r="4"/>
<circle cx="232.4" cy="270.9" r="4"/>
<circle cx="232.8" cy="271.8" r="4"/>
<circle cx="235.6" cy="270.4" r="4"/>
<circle cx="231.4" cy="273.2" r="4"/>
<circle cx="234.4" cy="268.2" r="4"/>
<circle cx="231.8" cy="274.0" r="4"/>
<circle cx="235.5" cy="269.3" r="4"/>
<circle cx="232.3" cy="273.2" r="4"/>
<circle cx="233.0" cy="271.4" r="4"/>
<circle cx="235.4" cy="267.6" r="4"/>
<circle cx="234.1" cy="268.7" r="4"/>
<circle cx="230.5" cy="273.7" r="4"/>
<circle cx="230.7" cy="273.4" r="4"/>
<circle cx="236.1" cy="265.7" r="4"/>
<circle cx="230.0" cy="275.1" r="4"/>
<circle cx="231.8" cy="275.7" r="4"/>
<circle cx="235.9" cy="268.0" r="4"/>
<circle cx="230.0" cy="275.6" r="4"/>
<circle cx="230.9" cy="275.3" r="4"/>
<circle cx="231.2" cy="273.1" r="4"/>
<circle cx="230.4" cy="275.9" r="4"/>
<circle cx="232.8" cy="273.3" r="4"/>
<circle cx="233.6" cy="269.0" r="4"/>
<circle cx="231.9" cy="272.5" r="4"/>
<circle cx="230.5" cy="275.0" r="4"/>
<circle cx="235.0" cy="267.8" r="4"/>
<circle cx="234.9" cy="267.7" r="4"/>
<circle cx="233.4" cy="270.8" r="4"/>
<circle cx="230.7" cy="277.4" r="4"/>
<circle cx="233.3" cy="272.4" r="4"/>
<circle cx="233.8" cy="271.3" r="4"/>
<circle cx="232.6" cy="273.8" r="4"/>
<circle cx="235.3" cy="268.4" r="4"/>
<circle cx="232.3" cy="271.2" r="4"/>
<circle cx="233.1" cy="272.4" r="4"/>
<circle cx="230.6" cy="276.8" r="4"/>
<circle cx="233.4" cy="268.5" r="4"/>
<circle cx="234.7" cy="270.1" r="4"/>
<circle cx="234.5" cy="271.5" r="4"/>
<circle cx="231.5" cy="273.6" r="4"/>
<circle cx="236.1" cy="266.9" r="4"/>
<circle cx="234.4" cy="270.9" r="4"/>
<circle cx="232.5" cy="271.4" r="4"/>
<circle cx="232.5" cy="273.2" r="4"/>
<circle cx="234.8" cy="270.6" r="4"/>
<circle cx="231.0" cy="274.4" r="4"/>
<circle cx="233.9" cy="269.5" r="4"/>
<circle cx="234.4" cy="270.8" r="4"/>
<circle cx="233.1" cy="271.2" r="4"/>
<circle cx="235.4" cy="268.7" r="4"/>
<circle cx="232.8" cy="268.2" r="4"/>
<circle cx="232.8" cy="273.1" r="4"/>
<circle cx="231.7" cy="271.8" r="4"/>
<circle cx="235.7" cy="268.2" r="4"/>
<circle cx="231.9" cy="273.6" r="4"/>
<circle cx="234.2" cy="269.1" r="4"/>
<circle cx="232.4" cy="271.4" r="4"/>
<circle cx="235.8" cy="266.3" r="4"/>
<circle cx="235.8" cy="267.4" r="4"/>
<circle cx="230.0" cy="276.8" r="4"/>
<circle cx="236.1" cy="268.2" r="4"/>
<circle cx="233.7" cy="270.2" r="4"/>
<circle cx="230.3" cy="274.8" r="4"/>
<circle cx="233.0" cy="269.9" r="4"/>
<circle cx="230.2" cy="275.2" r="4"/>
<circle cx="233.3" cy="269.9" r="4"/>
<circle cx="231.0" cy="272.5" r="4"/>
<circle cx="232.2" cy="272.8" r="4"/>
<circle cx="231.8" cy="275.6" r="4"/>
<circle cx="233.7" cy="272.5" r="4"/>
<circle cx="235.0" cy="271.0" r="4"/>
<circle cx="235.8" cy="265.8" r="4"/>
<circle cx="231.9" cy="274.5" r="4"/>
<circle cx="233.5" cy="269.5" r="4"/>
<circle cx="229.9" cy="275.4" r="4"/>
<circle cx="232.2" cy="270.6" r="4"/>
<circle cx="235.9" cy="266.4" r="4"/>
<circle cx="230.6" cy="275.3" r="4"/>
<circle cx="235.3" cy="268.9" r="4"/>
<circle cx="234.0" cy="270.4" r="4"/>
<circle cx="231.7" cy="273.4" r="4"/>
<circle cx="234.8" cy="270.1" r="4"/>
<circle cx="231.7" cy="273.7" r="4"/>
<circle cx="235.5" cy="266.2" r="4"/>
<circle cx="230.4" cy="277.4" r="4"/>
<circle cx="230.6" cy="274.8" r="4"/>
<circle cx="234.6" cy="270.9" r="4"/>
<circle cx="232.7" cy="272.0" r="4"/>
<circle cx="230.8" cy="273.8" r="4"/>
<circle cx="233.1" cy="271.8" r="4"/>
<circle cx="231.7" cy="272.6" r="4"/>
<circle cx="233.3" cy="273.6" r="4"/>
<circle cx="234.5" cy="268.2" r="4"/>
<circle cx="235.3" cy="269.5" r="4"/>
<circle cx="230.2" cy="274.8" r="4"/>
<circle cx="233.6" cy="270.8" r="4"/>
<circle cx="236.1" cy="271.1" r="4"/>
<circle cx="232.8" cy="273.2" r="4"/>
<circle cx="234.7" cy="269.2" r="4"/>
<circle cx="230.5" cy="273.2" r="4"/>
<circle cx="235.4" cy="268.2" r="4"/>
<circle cx="233.5" cy="270.8" r="4"/>
<circle cx="235.5" cy="270.3" r="4"/>
<circle cx="234.8" cy="267.4" r="4"/>
<circle cx="235.3" cy="266.1" r="4"/>
<circle cx="230.2" cy="275.7" r="4"/>
<circle cx="234.4" cy="270.2" r="4"/>
<circle cx="231.1" cy="276.7" r="4"/>
<circle cx="231.5" cy="272.7" r="4"/>
<circle cx="231.9" cy="269.7" r="4"/>
<circle cx="233.6" cy="270.0" r="4"/>
<circle cx="233.8" cy="269.0" r="4"/>
<circle cx="235.7" cy="267.3" r="4"/>
<circle cx="229.9" cy="277.4" r="4"/>
<circle cx="231.1" cy="272.7" r="4"/>
<circle cx="232.1" cy="274.7" r="4"/>
<circle cx="235.0" cy="269.3" r="4"/>
<circle cx="233.3" cy="271.0" r="4"/>
<circle cx="233.1" cy="270.5" r="4"/>
<circle cx="234.7" cy="269.0" r="4"/>
<circle cx="234.0" cy="269.9" r="4"/>
<circle cx="231.7" cy="274.7" r="4"/>
<circle cx="230.4" cy="277.2" r="4"/>
<circle cx="232.8" cy="272.1" r="4"/>
<circle cx="235.4" cy="269.5" r="4"/>
<circle cx="241.8" cy="258.9" r="4"/>
<circle cx="243.0" cy="260.2" r="4"/>
<circle cx="240.4" cy="258.5" r="4"/>
<circle cx="242.1" cy="257.3" r="4"/>
<circle cx="242.9" cy="256.9" r="4"/>
<circle cx="241.2" cy="261.0" r="4"/>
<circle cx="240.6" cy="261.4" r="4"/>
<circle cx="237.7" cy="264.5" r="4"/>
<circle cx="238.7" cy="263.3" r="4"/>
<circle cx="240.4" cy="264.2" r="4"/>
<circle cx="242.5" cy="257.4" r="4"/>
<circle cx="238.2" cy="259.9" r="4"/>
<circle cx="238.9" cy="266.6" r="4"/>
<circle cx="236.3" cy="265.6" r="4"/>
<circle cx="240.9" cy="260.2" r="4"/>
<circle cx="239.2" cy="263.4" r="4"/>
<circle cx="241.6" cy="257.6" r="4"/>
<circle cx="237.8" cy="267.1" r="4"/>
<circle cx="240.7" cy="260.9" r="4"/>
<circle cx="240.8" cy="258.7" r="4"/>
<circle cx="239.4" cy="263.3" r="4"/>
<circle cx="237.5" cy="266.3" r="4"/>
<circle cx="238.9" cy="263.4" r="4"/>
<circle cx="241.3" cy="261.1" r="4"/>
<circle cx="237.5" cy="263.2" r="4"/>
<circle cx="236.8" cy="268.0" r="4"/>
<circle cx="239.3" cy="261.6" r="4"/>
<circle cx="237.8" cy="267.2" r="4"/>
<circle cx="241.7" cy="258.7" r="4"/>
<circle cx="241.8" cy="259.8" r="4"/>
<circle cx="242.6" cy="262.6" r="4"/>
<circle cx="241.9" cy="259.4" r="4"/>
<circle cx="240.6" cy="263.0" r="4"/>
<circle cx="237.4" cy="266.4" r="4"/>
<circle cx="241.8" cy="257.1" r="4"/>
<circle cx="241.2" cy="262.3" r="4"/>
<circle cx="241.3" cy="262.0" r="4"/>
<circle cx="240.9" cy="258.5" r="4"/>
<circle cx="241.9" cy="259.3" r="4"/>
<circle cx="238.2" cy="262.1" r="4"/>
<circle cx="240.8" cy="260.5" r="4"/>
<circle cx="239.7" cy="263.9" r="4"/>
<circle cx="238.5" cy="264.3" r="4"/>
<circle cx="238.4" cy="262.4" r="4"/>
<circle cx="237.2" cy="264.5" r="4"/>
<circle cx="239.5" cy="262.8" r="4"/>
<circle cx="238.7" cy="263.8" r="4"/>
<circle cx="239.1" cy="263.6" r="4"/>
<circle cx="242.0" cy="260.2" r="4"/>
<circle cx="240.8" cy="257.8" r="4"/>
<circle cx="240.8" cy="260.9" r="4"/>
<circle cx="242.9" cy="259.9" r="4"/>
<circle cx="237.7" cy="266.1" r="4"/>
<circle cx="239.6" cy="261.4" r="4"/>
<circle cx="236.8" cy="265.5" r="4"/>
<circle cx="238.9" cy="263.9" r="4"/>
<circle cx="242.7" cy="259.5" r="4"/>
<circle cx="236.8" cy="266.6" r="4"/>
<circle cx="241.4" cy="262.9" r="4"/>
<circle cx="242.1" cy="261.3" r="4"/>
<circle cx="239.7" cy="261.3" r="4"/>
<circle cx="241.6" cy="260.6" r="4"/>
<circle cx="239.2" cy="262.6" r="4"/>
<circle cx="238.6" cy="262.1" r="4"/>
<circle cx="239.6" cy="261.6" r="4"/>
<circle cx="237.5" cy="265.6" r="4"/>
<circle cx="238.3" cy="261.1" r="4"/>
<circle cx="238.3" cy="263.5" r="4"/>
<circle cx="242.9" cy="258.6" r="4"/>
<circle cx="238.5" cy="263.1" r="4"/>
<circle cx="237.7" cy="264.6" r="4"/>
<circle cx="242.6" cy="259.9" r="4"/>
<circle cx="237.1" cy="266.0" r="4"/>
<circle cx="242.8" cy="258.5" r="4"/>
<circle cx="242.0" cy="262.5" r="4"/>
<circle cx="240.6" cy="261.5" r="4"/>
<circle cx="239.1" cy="263.8" r="4"/>
<circle cx="237.5" cy="266.3" r="4"/>
<circle cx="236.9" cy="269.1" r="4"/>
<circle cx="236.9" cy="267.0" r="4"/>
<circle cx="238.6" cy="264.2" r="4"/>
<circle cx="239.0" cy="263.4" r="4"/>
<circle cx="242.5" cy="260.5" r="4"/>
<circle cx="239.8" cy="261.3" r="4"/>
<circle cx="243.0" cy="259.9" r="4"/>
<circle cx="241.1" cy="260.9" r="4"/>
<circle cx="237.2" cy="264.0" r="4"/>
<circle cx="240.0" cy="263.3" r="4"/>
<circle cx="237.3" cy="266.7" r="4"/>
<circle cx="236.4" cy="265.3" r="4"/>
<circle cx="242.6" cy="259.1" r="4"/>
<circle cx="238.5" cy="264.7" r="4"/>
<circle cx="237.5" cy="265.3" r="4"/>
<circle cx="236.9" cy="264.8" r="4"/>
<circle cx="240.6" cy="264.8" r="4"/>
<circle cx="239.3" cy="264.4" r="4"/>
<circle cx="236.2" cy="268.9" r="4"/>
<circle cx="241.1" cy="262.4" r="4"/>
<circle cx="237.9" cy="266.4" r="4"/>
<circle cx="241.5" cy="261.3" r="4"/>
<circle cx="239.5" cy="262.3" r="4"/>
<circle cx="239.8" cy="263.8" r="4"/>
<circle cx="239.3" cy="262.9" r="4"/>
<circle cx="240.8" cy="260.4" r="4"/>
<circle cx="243.0" cy="259.2" r="4"/>
<circle cx="241.6" cy="259.6" r="4"/>
<circle cx="236.6" cy="264.2" r="4"/>
<circle cx="239.6" cy="262.2" r="4"/>
<circle cx="237.8" cy="266.2" r="4"/>
<circle cx="236.9" cy="266.6" r="4"/>
<circle cx="237.5" cy="267.0" r="4"/>
<circle cx="237.9" cy="264.6" r="4"/>
<circle cx="242.7" cy="256.9" r="4"/>
<circle cx="241.3" cy="261.6" r="4"/>
<circle cx="242.0" cy="259.6" r="4"/>
<circle cx="241.0" cy="259.0" r="4"/>
<circle cx="238.3" cy="265.2" r="4"/>
<circle cx="238.8" cy="263.4" r="4"/>
<circle cx="239.2" cy="264.9" r="4"/>
<circle cx="238.2" cy="265.9" r="4"/>
<circle cx="239.1" cy="264.2" r="4"/>
<circle cx="241.5" cy="256.7" r="4"/>
<circle cx="236.7" cy="267.4" r="4"/>
<circle cx="238.1" cy="265.6" r="4"/>
<circle cx="239.5" cy="263.8" r="4"/>
<circle cx="240.8" cy="261.3" r="4"/>
<circle cx="240.6" cy="260.3" r="4"/>
<circle cx="241.1" cy="260.2" r="4"/>
<circle cx="236.9" cy="263.2" r="4"/>
<circle cx="237.4" cy="265.4" r="4"/>
<circle cx="238.3" cy="262.2" r="4"/>
<circle cx="238.1" cy="264.3" r="4"/>
<circle cx="241.3" cy="259.3" r="4"/>
<circle cx="243.0" cy="260.2" r="4"/>
<circle cx="240.9" cy="261.1" r="4"/>
<circle cx="236.4" cy="267.2" r="4"/>
<circle cx="238.2" cy="265.0" r="4"/>
<circle cx="241.7" cy="263.1" r="4"/>
<circle cx="242.5" cy="257.3" r="4"/>
<circle cx="240.2" cy="262.4" r="4"/>
<circle cx="238.6" cy="264.8" r="4"/>
<circle cx="238.6" cy="264.5" r="4"/>
<circle cx="240.5" cy="261.8" r="4"/>
<circle cx="242.1" cy="258.6" r="4"/>
<circle cx="238.5" cy="266.2" r="4"/>
<circle cx="237.5" cy="267.1" r="4"/>
<circle cx="236.2" cy="267.0" r="4"/>
<circle cx="237.1" cy="265.9" r="4"/>
<circle cx="242.0" cy="259.9" r="4"/>
<circle cx="240.4" cy="262.4" r="4"/>
<circle cx="243.0" cy="259.3" r="4"/>
<circle cx="236.6" cy="266.9" r="4"/>
<circle cx="238.7" cy="262.1" r="4"/>
<circle cx="241.6" cy="261.5" r="4"/>
<circle cx="240.7" cy="258.8" r="4"/>
<circle cx="236.6" cy="265.5" r="4"/>
<circle cx="238.9" cy="264.3" r="4"/>
<circle cx="240.5" cy="260.1" r="4"/>
<circle cx="240.9" cy="263.2" r="4"/>
<circle cx="239.3" cy="265.8" r="4"/>
<circle cx="237.5" cy="267.7" r="4"/>
<circle cx="242.8" cy="258.9" r="4"/>
<circle cx="239.4" cy="263.5" r="4"/>
<circle cx="241.1" cy="261.4" r="4"/>
<circle cx="239.8" cy="262.2" r="4"/>
<circle cx="236.7" cy="270.0" r="4"/>
<circle cx="237.8" cy="264.4" r="4"/>
<circle cx="236.6" cy="269.1" r="4"/>
<circle cx="237.5" cy="266.7" r="4"/>
<circle cx="237.5" cy="266.2" r="4"/>
<circle cx="239.0" cy="265.3" r="4"/>
<circle cx="238.4" cy="266.5" r="4"/>
<circle cx="238.7" cy="265.6" r="4"/>
<circle cx="241.8" cy="259.7" r="4"/>
<circle cx="236.3" cy="266.3" r="4"/>
<circle cx="236.9" cy="265.6" r="4"/>
<circle cx="241.7" cy="261.3" r="4"/>
<circle cx="239.8" cy="263.6" r="4"/>
<circle cx="239.2" cy="264.7" r="4"/>
<circle cx="238.0" cy="264.2" r="4"/>
<circle cx="244.3" cy="252.6" r="4"/>
<circle cx="248.2" cy="249.7" r="4"/>
<circle cx="243.4" cy="259.8" r="4"/>
<circle cx="244.1" cy="255.6" r="4"/>
<circle cx="246.7" cy="250.2" r="4"/>
<circle cx="246.3" cy="254.4" r="4"/>
<circle cx="244.6" cy="257.3" r="4"/>
<circle cx="248.2" cy="248.8" r="4"/>
<circle cx="245.3" cy="254.5" r="4"/>
<circle cx="246.3" cy="255.5" r="4"/>
<circle cx="243.5" cy="258.0" r="4"/>
<circle cx="247.9" cy="252.6" r="4"/>
<circle cx="243.6" cy="256.5" r="4"/>
<circle cx="245.2" cy="254.7" r="4"/>
<circle cx="247.9" cy="248.9" r="4"/>
<circle cx="248.2" cy="249.3" r="4"/>
<circle cx="248.0" cy="254.1" r="4"/>
<circle cx="247.6" cy="250.8" r="4"/>
<circle cx="244.3" cy="254.4" r="4"/>
<circle cx="243.2" cy="256.8" r="4"/>
<circle cx="245.5" cy="252.5" r="4"/>
<circle cx="243.4" cy="258.5" r="4"/>
<circle cx="248.3" cy="252.4" r="4"/>
<circle cx="243.1" cy="256.0" r="4"/>
<circle cx="244.8" cy="257.5" r="4"/>
<circle cx="244.1" cy="260.6" r="4"/>
<circle cx="243.1" cy="255.8" r="4"/>
<circle cx="245.8" cy="255.5" r="4"/>
<circle cx="243.4" cy="257.9" r="4"/>
<circle cx="248.0" cy="253.8" r="4"/>
<circle cx="246.8" cy="255.2" r="4"/>
<circle cx="245.1" cy="257.3" r="4"/>
<circle cx="247.6" cy="252.2" r="4"/>
<circle cx="247.4" cy="251.1" r="4"/>
<circle cx="244.8" cy="259.9" r="4"/>
<circle cx="247.7" cy="250.0" r="4"/>
<circle cx="248.1" cy="253.1" r="4"/>
<circle cx="246.4" cy="255.3" r="4"/>
<circle cx="245.0" cy="253.9" r="4"/>
<circle cx="248.0" cy="251.2" r="4"/>
<circle cx="248.2" cy="253.7" r="4"/>
<circle cx="244.9" cy="251.7" r="4"/>
<circle cx="243.5" cy="258.9" r="4"/>
<circle cx="247.8" cy="250.8" r="4"/>
<circle cx="246.7" cy="252.4" r="4"/>
<circle cx="244.3" cy="253.4" r="4"/>
<circle cx="246.1" cy="254.5" r="4"/>
<circle cx="244.7" cy="253.6" r="4"/>
<circle cx="248.1" cy="252.3" r="4"/>
<circle cx="244.9" cy="253.1" r="4"/>
<circle cx="244.1" cy="257.9" r="4"/>
<circle cx="243.3" cy="258.3" r="4"/>
<circle cx="244.9" cy="251.6" r="4"/>
<circle cx="248.5" cy="249.7" r="4"/>
<circle cx="244.2" cy="256.0" r="4"/>
<circle cx="245.5" cy="250.0" r="4"/>
<circle cx="248.4" cy="249.8" r="4"/>
<circle cx="243.1" cy="259.4" r="4"/>
<circle cx="244.6" cy="254.2" r="4"/>
<circle cx="247.5" cy="253.9" r="4"/>
<circle cx="253.9" cy="246.7" r="4"/>
<circle cx="253.8" cy="243.8" r="4"/>
<circle cx="248.7" cy="250.8" r="4"/>
<circle cx="253.7" cy="243.6" r="4"/>
<circle cx="251.4" cy="245.6" r="4"/>
<circle cx="249.2" cy="251.7" r="4"/>
<circle cx="253.0" cy="242.9" r="4"/>
<circle cx="250.9" cy="247.3" r="4"/>
<circle cx="269.1" cy="222.4" r="4"/>
<circle cx="264.7" cy="228.3" r="4"/>
<circle cx="260.6" cy="234.5" r="4"/>
<circle cx="256.2" cy="239.6" r="4"/>
<circle cx="257.0" cy="244.2" r="4"/>
<circle cx="254.0" cy="241.5" r="4"/>
<line x1="229.31" y1="277.0" x2="393.87" y2="49.0" stroke-width="1.2"/>
</g>
<clipPath id="cp2"><rect x="393.87" y="44.0" width="164.56" height="233.75"/></clipPath>
<g clip-path="url(#cp2)">
<circle cx="404.8" cy="264.8" r="4"/>
<circle cx="405.9" cy="257.1" r="4"/>
<circle cx="399.1" cy="267.2" r="4"/>
<circle cx="399.8" cy="267.5" r="4"/>
<circle cx="398.8" cy="263.7" r="4"/>
<circle cx="394.5" cy="273.2" r="4"/>
<circle cx="397.5" cy="271.1" r="4"/>
<circle cx="398.8" cy="267.7" r="4"/>
<circle cx="395.8" cy="273.7" r="4"/>
<circle cx="404.5" cy="262.0" r="4"/>
<circle cx="400.0" cy="265.5" r="4"/>
<circle cx="401.9" cy="265.0" r="4"/>
<circle cx="398.2" cy="269.6" r="4"/>
<circle cx="399.2" cy="264.2" r="4"/>
<circle cx="404.3" cy="259.1" r="4"/>
<circle cx="400.6" cy="264.0" r="4"/>
<circle cx="402.3" cy="262.4" r="4"/>
<circle cx="400.0" cy="265.4" r="4"/>
<circle cx="401.8" cy="261.2" r="4"/>
<circle cx="406.2" cy="258.3" r="4"/>
<circle cx="397.9" cy="265.4" r="4"/>
<circle cx="401.3" cy="266.6" r="4"/>
<circle cx="403.5" cy="262.4" r="4"/>
<circle cx="395.6" cy="274.7" r="4"/>
<circle cx="407.1" cy="257.9" r="4"/>
<circle cx="401.0" cy="264.0" r="4"/>
<circle cx="397.6" cy="266.5" r="4"/>
<circle cx="404.4" cy="261.9" r="4"/>
<circle cx="405.2" cy="259.7" r="4"/>
<circle cx="402.7" cy="263.5" r="4"/>
<circle cx="406.5" cy="259.4" r="4"/>
<circle cx="395.6" cy="274.3" r="4"/>
<circle cx="401.4" cy="264.5" r="4"/>
<circle cx="404.2" cy="264.3" r="4"/>
<circle cx="406.5" cy="257.7" r="4"/>
<circle cx="402.9" cy="262.6" r="4"/>
<circle cx="402.3" cy="264.6" r="4"/>
<circle cx="399.5" cy="268.9" r="4"/>
<circle cx="401.9" cy="266.5" r="4"/>
<circle cx="401.7" cy="260.5" r="4"/>
<circle cx="406.3" cy="260.8" r="4"/>
<circle cx="405.3" cy="256.4" r="4"/>
<circle cx="404.1" cy="259.8" r="4"/>
<circle cx="406.6" cy="258.5" r="4"/>
<circle cx="395.3" cy="274.7" r="4"/>
<circle cx="404.6" cy="258.4" r="4"/>
<circle cx="400.5" cy="262.3" r="4"/>
<circle cx="404.3" cy="262.6" r="4"/>
<circle cx="398.3" cy="269.1" r="4"/>
<circle cx="400.6" cy="263.5" r="4"/>
<circle cx="405.3" cy="258.9" r="4"/>
<circle cx="394.9" cy="269.0" r="4"/>
<circle cx="398.3" cy="269.7" r="4"/>
<circle cx="400.8" cy="264.2" r="4"/>
<circle cx="405.6" cy="261.5" r="4"/>
<circle cx="398.0" cy="264.9" r="4"/>
<circle cx="405.3" cy="261.0" r="4"/>
<circle cx="397.6" cy="273.7" r="4"/>
<circle cx="398.4" cy="268.6" r="4"/>
<circle cx="401.7" cy="264.4" r="4"/>
<circle cx="403.0" cy="258.7" r="4"/>
<circle cx="406.0" cy="259.2" r="4"/>
<circle cx="406.0" cy="258.6" r="4"/>
<circle cx="397.7" cy="268.1" r="4"/>
<circle cx="404.2" cy="257.8" r="4"/>
<circle cx="402.8" cy="262.9" r="4"/>
<circle cx="399.5" cy="264.9" r="4"/>
<circle cx="404.6" cy="259.3" r="4"/>
<circle cx="406.2" cy="258.9" r="4"/>
<circle cx="400.7" cy="265.2" r="4"/>
<circle cx="406.5" cy="257.9" r="4"/>
<circle cx="396.1" cy="273.2" r="4"/>
<circle cx="396.6" cy="268.3" r="4"/>
<circle cx="404.5" cy="263.2" r="4"/>
<circle cx="398.4" cy="266.1" r="4"/>
<circle cx="402.1" cy="261.7" r="4"/>
<circle cx="401.0" cy="265.3" r="4"/>
<circle cx="396.3" cy="272.5" r="4"/>
<circle cx="404.3" cy="261.2" r="4"/>
<circle cx="404.2" cy="260.0" r="4"/>
<circle cx="396.3" cy="269.6" r="4"/>
<circle cx="397.8" cy="268.6" r="4"/>
<circle cx="405.0" cy="258.0" r="4"/>
<circle cx="406.4" cy="259.1" r="4"/>
<circle cx="405.9" cy="258.3" r="4"/>
<circle cx="401.0" cy="268.1" r="4"/>
<circle cx="399.3" cy="265.8" r="4"/>
<circle cx="400.3" cy="265.7" r="4"/>
<circle cx="396.7" cy="271.3" r="4"/>
<circle cx="400.9" cy="262.8" r="4"/>
<circle cx="397.5" cy="268.3" r="4"/>
<circle cx="396.6" cy="276.3" r="4"/>
<circle cx="399.4" cy="267.0" r="4"/>
<circle cx="395.3" cy="275.3" r="4"/>
<circle cx="400.6" cy="263.5" r="4"/>
<circle cx="403.6" cy="256.9" r="4"/>
<circle cx="403.0" cy="263.5" r="4"/>
<circle cx="407.3" cy="256.8" r="4"/>
<circle cx="406.1" cy="259.0" r="4"/>
<circle cx="402.8" cy="262.1" r="4"/>
<circle cx="406.2" cy="257.0" r="4"/>
<circle cx="400.3" cy="263.5" r="4"/>
<circle cx="404.9" cy="261.9" r="4"/>
<circle cx="398.2" cy="265.6" r="4"/>
<circle cx="401.4" cy="266.4" r="4"/>
<circle cx="407.3" cy="256.3" r="4"/>
<circle cx="402.3" cy="261.1" r="4"/>
<circle cx="401.1" cy="263.5" r="4"/>
<circle cx="404.8" cy="262.0" r="4"/>
<circle cx="398.5" cy="269.6" r="4"/>
<circle cx="405.4" cy="260.3" r="4"/>
<circle cx="394.7" cy="273.3" r="4"/>
<circle cx="397.6" cy="267.3" r="4"/>
<circle cx="396.8" cy="273.0" r="4"/>
<circle cx="397.8" cy="268.3" r="4"/>
<circle cx="406.9" cy="256.3" r="4"/>
<circle cx="394.7" cy="272.0" r="4"/>
<circle cx="398.4" cy="267.5" r="4"/>
<circle cx="402.0" cy="260.8" r="4"/>
<circle cx="403.7" cy="260.6" r="4"/>
<circle cx="404.6" cy="258.7" r="4"/>
<circle cx="399.5" cy="265.9" r="4"/>
<circle cx="397.3" cy="266.3" r="4"/>
<circle cx="405.6" cy="262.7" r="4"/>
<circle cx="396.0" cy="269.0" r="4"/>
<circle cx="395.3" cy="272.9" r="4"/>
<circle cx="397.5" cy="270.1" r="4"/>
<circle cx="400.9" cy="267.1" r="4"/>
<circle cx="406.8" cy="261.2" r="4"/>
<circle cx="404.0" cy="261.9" r="4"/>
<circle cx="401.8" cy="265.3" r="4"/>
<circle cx="401.3" cy="263.7" r="4"/>
<circle cx="403.5" cy="264.6" r="4"/>
<circle cx="402.7" cy="260.1" r="4"/>
<circle cx="398.8" cy="267.3" r="4"/>
<circle cx="395.6" cy="272.4" r="4"/>
<circle cx="397.1" cy="271.5" r="4"/>
<circle cx="404.7" cy="261.8" r="4"/>
<circle cx="402.8" cy="265.0" r="4"/>
<circle cx="404.9" cy="261.0" r="4"/>
<circle cx="395.0" cy="272.8" r="4"/>
<circle cx="406.3" cy="258.6" r="4"/>
<circle cx="399.5" cy="269.8" r="4"/>
<circle cx="406.6" cy="258.3" r="4"/>
<circle cx="402.2" cy="265.2" r="4"/>
<circle cx="401.6" cy="263.9" r="4"/>
<circle cx="405.2" cy="256.0" r="4"/>
<circle cx="402.7" cy="261.7" r="4"/>
<circle cx="403.3" cy="262.7" r="4"/>
<circle cx="396.5" cy="274.0" r="4"/>
<circle cx="402.4" cy="266.0" r="4"/>
<circle cx="399.1" cy="270.8" r="4"/>
<circle cx="395.4" cy="270.8" r="4"/>
<circle cx="396.2" cy="272.8" r="4"/>
<circle cx="400.7" cy="265.3" r="4"/>
<circle cx="397.9" cy="270.3" r="4"/>
<circle cx="404.5" cy="260.4" r="4"/>
<circle cx="396.0" cy="268.7" r="4"/>
<circle cx="394.6" cy="274.6" r="4"/>
<circle cx="407.5" cy="257.3" r="4"/>
<circle cx="398.5" cy="269.8" r="4"/>
<circle cx="401.1" cy="263.2" r="4"/>
<circle cx="397.2" cy="272.0" r="4"/>
<circle cx="397.2" cy="272.2" r="4"/>
<circle cx="399.7" cy="269.4" r="4"/>
<circle cx="404.8" cy="262.9" r="4"/>
<circle cx="394.9" cy="272.0" r="4"/>
<circle cx="405.4" cy="254.3" r="4"/>
<circle cx="407.5" cy="258.6" r="4"/>
<circle cx="401.8" cy="262.2" r="4"/>
<circle cx="399.2" cy="266.9" r="4"/>
<circle cx="397.5" cy="271.7" r="4"/>
<circle cx="396.8" cy="271.0" r="4"/>
<circle cx="398.7" cy="268.5" r="4"/>
<circle cx="405.6" cy="260.4" r="4"/>
<circle cx="394.5" cy="269.7" r="4"/>
<circle cx="404.8" cy="263.9" r="4"/>
<circle cx="403.2" cy="261.4" r="4"/>
<circle cx="394.7" cy="272.6" r="4"/>
<circle cx="395.3" cy="273.5" r="4"/>
<circle cx="404.1" cy="260.8" r="4"/>
<circle cx="403.3" cy="260.4" r="4"/>
<circle cx="398.5" cy="267.9" r="4"/>
<circle cx="405.8" cy="258.1" r="4"/>
<circle cx="397.2" cy="268.6" r="4"/>
<circle cx="400.0" cy="270.2" r="4"/>
<circle cx="395.9" cy="268.7" r="4"/>
<circle cx="402.9" cy="258.1" r="4"/>
<circle cx="395.6" cy="270.1" r="4"/>
<circle cx="396.8" cy="268.5" r="4"/>
<circle cx="404.5" cy="263.3" r="4"/>
<circle cx="401.0" cy="265.3" r="4"/>
<circle cx="403.1" cy="263.9" r="4"/>
<circle cx="404.1" cy="262.2" r="4"/>
<circle cx="402.4" cy="261.3" r="4"/>
<circle cx="397.0" cy="271.7" r="4"/>
<circle cx="403.6" cy="261.9" r="4"/>
<circle cx="395.9" cy="275.3" r="4"/>
<circle cx="398.0" cy="269.3" r="4"/>
<circle cx="400.3" cy="265.7" r="4"/>
<circle cx="414.9" cy="246.3" r="4"/>
<circle cx="408.8" cy="260.4" r="4"/>
<circle cx="417.8" cy="243.0" r="4"/>
<circle cx="412.3" cy="252.0" r="4"/>
<circle cx="418.7" cy="239.3" r="4"/>
<circle cx="408.9" cy="255.4" r="4"/>
<circle cx="414.4" cy="249.5" r="4"/>
<circle cx="409.0" cy="255.2" r="4"/>
<circle cx="418.3" cy="242.4" r="4"/>
<circle cx="415.3" cy="247.8" r="4"/>
<circle cx="410.8" cy="252.5" r="4"/>
<circle cx="420.8" cy="242.4" r="4"/>
<circle cx="416.9" cy="244.9" r="4"/>
<circle cx="412.2" cy="248.9" r="4"/>
<circle cx="419.3" cy="237.2" r="4"/>
<circle cx="412.8" cy="248.3" r="4"/>
<circle cx="420.5" cy="239.3" r="4"/>
<circle cx="411.7" cy="248.7" r="4"/>
<circle cx="421.1" cy="236.9" r="4"/>
<circle cx="408.4" cy="251.9" r="4"/>
<circle cx="417.7" cy="241.2" r="4"/>
<circle cx="411.6" cy="251.6" r="4"/>
<circle cx="413.4" cy="248.5" r="4"/>
<circle cx="416.3" cy="244.9" r="4"/>
<circle cx="408.2" cy="255.1" r="4"/>
<circle cx="410.6" cy="252.2" r="4"/>
<circle cx="409.0" cy="256.4" r="4"/>
<circle cx="417.7" cy="248.0" r="4"/>
<circle cx="410.6" cy="254.1" r="4"/>
<circle cx="414.4" cy="252.1" r="4"/>
<circle cx="412.1" cy="250.6" r="4"/>
<circle cx="410.8" cy="252.3" r="4"/>
<circle cx="420.4" cy="243.6" r="4"/>
<circle cx="414.5" cy="246.1" r="4"/>
<circle cx="416.5" cy="243.2" r="4"/>
<circle cx="417.2" cy="243.9" r="4"/>
<circle cx="418.8" cy="238.4" r="4"/>
<circle cx="411.2" cy="247.9" r="4"/>
<circle cx="408.7" cy="257.7" r="4"/>
<circle cx="414.0" cy="246.0" r="4"/>
<circle cx="409.9" cy="252.6" r="4"/>
<circle cx="407.9" cy="255.3" r="4"/>
<circle cx="420.2" cy="238.3" r="4"/>
<circle cx="416.2" cy="247.0" r="4"/>
<circle cx="413.3" cy="250.5" r="4"/>
<circle cx="409.5" cy="255.9" r="4"/>
<circle cx="418.0" cy="244.7" r="4"/>
<circle cx="414.9" cy="247.3" r="4"/>
<circle cx="410.0" cy="256.6" r="4"/>
<circle cx="421.1" cy="241.4" r="4"/>
<circle cx="420.6" cy="238.5" r="4"/>
<circle cx="420.3" cy="240.3" r="4"/>
<circle cx="418.9" cy="241.1" r="4"/>
<circle cx="414.9" cy="251.2" r="4"/>
<circle cx="411.7" cy="252.9" r="4"/>
<circle cx="416.5" cy="246.2" r="4"/>
<circle cx="409.7" cy="253.8" r="4"/>
<circle cx="416.0" cy="246.9" r="4"/>
<circle cx="408.5" cy="253.4" r="4"/>
<circle cx="407.8" cy="256.4" r="4"/>
<circle cx="417.4" cy="243.8" r="4"/>
<circle cx="412.3" cy="250.4" r="4"/>
<circle cx="417.1" cy="242.7" r="4"/>
<circle cx="418.3" cy="243.7" r="4"/>
<circle cx="419.0" cy="239.3" r="4"/>
<circle cx="416.0" cy="244.7" r="4"/>
<circle cx="419.2" cy="241.2" r="4"/>
<circle cx="416.6" cy="244.8" r="4"/>
<circle cx="420.3" cy="239.0" r="4"/>
<circle cx="419.9" cy="238.5" r="4"/>
<circle cx="408.2" cy="253.7" r="4"/>
<circle cx="411.3" cy="251.0" r="4"/>
<circle cx="412.9" cy="247.8" r="4"/>
<circle cx="411.0" cy="251.8" r="4"/>
<circle cx="410.0" cy="250.7" r="4"/>
<circle cx="419.6" cy="241.1" r="4"/>
<circle cx="407.9" cy="260.5" r="4"/>
<circle cx="410.1" cy="250.5" r="4"/>
<circle cx="418.0" cy="242.8" r="4"/>
<circle cx="410.6" cy="255.1" r="4"/>
<circle cx="411.1" cy="252.4" r="4"/>
<circle cx="420.9" cy="241.3" r="4"/>
<circle cx="418.0" cy="238.5" r="4"/>
<circle cx="413.7" cy="247.5" r="4"/>
<circle cx="409.5" cy="257.5" r="4"/>
<circle cx="411.3" cy="250.6" r="4"/>
<circle cx="421.0" cy="240.0" r="4"/>
<circle cx="418.4" cy="238.4" r="4"/>
<circle cx="408.5" cy="257.6" r="4"/>
<circle cx="417.3" cy="248.8" r="4"/>
<circle cx="412.7" cy="249.7" r="4"/>
<circle cx="417.5" cy="244.5" r="4"/>
<circle cx="411.6" cy="252.2" r="4"/>
<circle cx="409.4" cy="258.8" r="4"/>
<circle cx="407.9" cy="255.3" r="4"/>
<circle cx="411.6" cy="247.7" r="4"/>
<circle cx="419.4" cy="245.4" r="4"/>
<circle cx="419.8" cy="238.3" r="4"/>
<circle cx="417.0" cy="245.7" r="4"/>
<circle cx="417.8" cy="238.3" r="4"/>
<circle cx="410.3" cy="252.2" r="4"/>
<circle cx="412.4" cy="250.7" r="4"/>
<circle cx="419.9" cy="238.3" r="4"/>
<circle cx="421.1" cy="238.0" r="4"/>
<circle cx="413.7" cy="250.0" r="4"/>
<circle cx="418.2" cy="241.3" r="4"/>
<circle cx="420.4" cy="241.1" r="4"/>
<circle cx="421.3" cy="242.7" r="4"/>
<circle cx="411.6" cy="247.0" r="4"/>
<circle cx="416.6" cy="245.7" r="4"/>
<circle cx="412.9" cy="250.9" r="4"/>
<circle cx="414.0" cy="247.6" r="4"/>
<circle cx="413.9" cy="251.7" r="4"/>
<circle cx="411.4" cy="254.5" r="4"/>
<circle cx="407.8" cy="257.3" r="4"/>
<circle cx="418.1" cy="244.1" r="4"/>
<circle cx="417.1" cy="244.1" r="4"/>
<circle cx="419.1" cy="239.3" r="4"/>
<circle cx="409.7" cy="254.8" r="4"/>
<circle cx="410.8" cy="251.3" r="4"/>
<circle cx="415.8" cy="244.7" r="4"/>
<circle cx="420.4" cy="242.3" r="4"/>
<circle cx="414.1" cy="247.7" r="4"/>
<circle cx="410.3" cy="255.0" r="4"/>
<circle cx="415.7" cy="243.7" r="4"/>
<circle cx="420.7" cy="238.6" r="4"/>
<circle cx="419.5" cy="241.1" r="4"/>
<circle cx="419.9" cy="243.5" r="4"/>
<circle cx="413.2" cy="249.0" r="4"/>
<circle cx="411.2" cy="253.5" r="4"/>
<circle cx="419.5" cy="239.6" r="4"/>
<circle cx="418.4" cy="242.8" r="4"/>
<circle cx="419.3" cy="243.2" r="4"/>
<circle cx="412.9" cy="247.6" r="4"/>
<circle cx="411.5" cy="249.9" r="4"/>
<circle cx="410.9" cy="253.6" r="4"/>
<circle cx="419.5" cy="238.6" r="4"/>
<circle cx="420.2" cy="240.9" r="4"/>
<circle cx="412.6" cy="250.7" r="4"/>
<circle cx="419.6" cy="240.8" r="4"/>
<circle cx="412.8" cy="251.4" r="4"/>
<circle cx="413.7" cy="249.6" r="4"/>
<circle cx="415.4" cy="246.9" r="4"/>
<circle cx="410.6" cy="249.3" r="4"/>
<circle cx="411.3" cy="248.6" r="4"/>
<circle cx="411.2" cy="252.4" r="4"/>
<circle cx="411.1" cy="248.5" r="4"/>
<circle cx="414.7" cy="247.5" r="4"/>
<circle cx="409.0" cy="253.9" r="4"/>
<circle cx="418.3" cy="240.8" r="4"/>
<circle cx="410.0" cy="252.8" r="4"/>
<circle cx="413.7" cy="243.5" r="4"/>
<circle cx="416.4" cy="244.7" r="4"/>
<circle cx="409.5" cy="256.7" r="4"/>
<circle cx="413.2" cy="246.5" r="4"/>
<circle cx="415.3" cy="247.5" r="4"/>
<circle cx="415.1" cy="247.4" r="4"/>
<circle cx="419.8" cy="247.1" r="4"/>
<circle cx="418.3" cy="240.5" r="4"/>
<circle cx="409.2" cy="252.6" r="4"/>
<circle cx="419.0" cy="240.1" r="4"/>
<circle cx="415.1" cy="244.7" r="4"/>
<circle cx="416.9" cy="240.9" r="4"/>
<circle cx="409.8" cy="253.8" r="4"/>
<circle cx="414.1" cy="246.2" r="4"/>
<circle cx="417.2" cy="245.7" r="4"/>
<circle cx="418.5" cy="243.2" r="4"/>
<circle cx="418.6" cy="240.0" r="4"/>
<circle cx="410.6" cy="251.9" r="4"/>
<circle cx="419.0" cy="244.7" r="4"/>
<circle cx="415.4" cy="245.7" r="4"/>
<circle cx="416.8" cy="245.1" r="4"/>
<circle cx="419.3" cy="243.2" r="4"/>
<circle cx="413.1" cy="248.4" r="4"/>
<circle cx="420.2" cy="241.1" r="4"/>
<circle cx="419.7" cy="244.3" r="4"/>
<circle cx="418.7" cy="244.6" r="4"/>
<circle cx="412.8" cy="246.0" r="4"/>
<circle cx="414.8" cy="250.4" r="4"/>
<circle cx="410.0" cy="253.0" r="4"/>
<circle cx="418.0" cy="241.8" r="4"/>
<circle cx="419.8" cy="239.4" r="4"/>
<circle cx="409.8" cy="256.3" r="4"/>
<circle cx="417.8" cy="244.0" r="4"/>
<circle cx="417.1" cy="243.9" r="4"/>
<circle cx="408.1" cy="254.2" r="4"/>
<circle cx="420.2" cy="241.7" r="4"/>
<circle cx="414.2" cy="250.5" r="4"/>
<circle cx="411.3" cy="249.6" r="4"/>
<circle cx="408.0" cy="253.6" r="4"/>
<circle cx="423.4" cy="236.0" r="4"/>
<circle cx="426.9" cy="229.3" r="4"/>
<circle cx="425.0" cy="231.7" r="4"/>
<circle cx="421.5" cy="239.3" r="4"/>
<circle cx="434.5" cy="220.2" r="4"/>
<circle cx="427.6" cy="234.1" r="4"/>
<circle cx="423.1" cy="231.1" r="4"/>
<circle cx="433.4" cy="220.4" r="4"/>
<circle cx="434.8" cy="221.9" r="4"/>
<circle cx="432.5" cy="227.1" r="4"/>
<circle cx="424.8" cy="233.5" r="4"/>
<circle cx="423.9" cy="239.8" r="4"/>
<circle cx="428.5" cy="231.4" r="4"/>
<circle cx="429.3" cy="226.8" r="4"/>
<circle cx="433.3" cy="223.1" r="4"/>
<circle cx="434.6" cy="222.9" r="4"/>
<circle cx="433.8" cy="220.5" r="4"/>
<circle cx="426.0" cy="235.2" r="4"/>
<circle cx="429.3" cy="227.8" r="4"/>
<circle cx="423.0" cy="237.8" r="4"/>
<circle cx="428.4" cy="231.6" r="4"/>
<circle cx="422.3" cy="236.5" r="4"/>
<circle cx="422.8" cy="239.2" r="4"/>
<circle cx="423.0" cy="232.2" r="4"/>
<circle cx="425.4" cy="234.9" r="4"/>
<circle cx="425.5" cy="228.7" r="4"/>
<circle cx="431.0" cy="228.9" r="4"/>
<circle cx="422.3" cy="236.1" r="4"/>
<circle cx="422.8" cy="239.7" r="4"/>
<circle cx="430.3" cy="230.4" r="4"/>
<circle cx="430.5" cy="226.6" r="4"/>
<circle cx="431.0" cy="224.7" r="4"/>
<circle cx="431.2" cy="229.1" r="4"/>
<circle cx="430.4" cy="224.3" r="4"/>
<circle cx="428.9" cy="230.9" r="4"/>
<circle cx="431.5" cy="225.4" r="4"/>
<circle cx="422.4" cy="236.5" r="4"/>
<circle cx="424.2" cy="233.7" r="4"/>
<circle cx="431.5" cy="229.9" r="4"/>
<circle cx="423.9" cy="231.6" r="4"/>
<circle cx="428.6" cy="228.1" r="4"/>
<circle cx="424.9" cy="235.2" r="4"/>
<circle cx="427.2" cy="233.6" r="4"/>
<circle cx="432.7" cy="228.0" r="4"/>
<circle cx="430.4" cy="230.3" r="4"/>
<circle cx="427.4" cy="229.7" r="4"/>
<circle cx="425.0" cy="234.8" r="4"/>
<circle cx="432.3" cy="227.2" r="4"/>
<circle cx="430.3" cy="228.4" r="4"/>
<circle cx="427.3" cy="227.4" r="4"/>
<circle cx="433.2" cy="224.2" r="4"/>
<circle cx="430.8" cy="227.9" r="4"/>
<circle cx="434.7" cy="218.3" r="4"/>
<circle cx="430.4" cy="226.0" r="4"/>
<circle cx="433.6" cy="222.8" r="4"/>
<circle cx="428.8" cy="230.5" r="4"/>
<circle cx="431.0" cy="229.9" r="4"/>
<circle cx="432.8" cy="226.7" r="4"/>
<circle cx="422.5" cy="238.4" r="4"/>
<circle cx="427.8" cy="231.0" r="4"/>
<circle cx="429.6" cy="227.3" r="4"/>
<circle cx="422.1" cy="236.5" r="4"/>
<circle cx="432.1" cy="224.3" r="4"/>
<circle cx="431.1" cy="225.7" r="4"/>
<circle cx="434.1" cy="224.6" r="4"/>
<circle cx="426.4" cy="237.3" r="4"/>
<circle cx="427.7" cy="231.7" r="4"/>
<circle cx="433.8" cy="224.9" r="4"/>
<circle cx="426.9" cy="233.1" r="4"/>
<circle cx="432.7" cy="224.7" r="4"/>
<circle cx="427.1" cy="234.3" r="4"/>
<circle cx="425.9" cy="235.5" r="4"/>
<circle cx="425.1" cy="234.2" r="4"/>
<circle cx="424.2" cy="234.8" r="4"/>
<circle cx="427.2" cy="232.7" r="4"/>
<circle cx="423.5" cy="234.8" r="4"/>
<circle cx="432.7" cy="224.7" r="4"/>
<circle cx="434.7" cy="224.0" r="4"/>
<circle cx="422.6" cy="237.0" r="4"/>
<circle cx="422.0" cy="233.5" r="4"/>
<circle cx="439.4" cy="218.8" r="4"/>
<circle cx="435.8" cy="216.8" r="4"/>
<circle cx="436.9" cy="217.2" r="4"/>
<circle cx="440.1" cy="209.0" r="4"/>
<circle cx="443.0" cy="214.7" r="4"/>
<circle cx="443.2" cy="209.8" r="4"/>
<circle cx="437.2" cy="219.2" r="4"/>
<circle cx="436.2" cy="224.5" r="4"/>
<circle cx="439.3" cy="217.9" r="4"/>
<circle cx="438.6" cy="212.9" r="4"/>
<circle cx="438.1" cy="218.6" r="4"/>
<circle cx="441.3" cy="215.2" r="4"/>
<circle cx="440.8" cy="210.9" r="4"/>
<circle cx="439.6" cy="212.1" r="4"/>
<circle cx="440.1" cy="211.5" r="4"/>
<circle cx="439.8" cy="217.4" r="4"/>
<circle cx="440.6" cy="214.1" r="4"/>
<circle cx="442.6" cy="208.1" r="4"/>
<circle cx="452.4" cy="204.3" r="4"/>
<circle cx="444.1" cy="213.4" r="4"/>
<circle cx="446.8" cy="206.4" r="4"/>
<circle cx="453.3" cy="195.1" r="4"/>
<circle cx="446.5" cy="206.8" r="4"/>
<circle cx="447.3" cy="208.0" r="4"/>
<circle cx="491.8" cy="138.3" r="4"/>
<circle cx="472.9" cy="170.2" r="4"/>
<circle cx="464.6" cy="175.7" r="4"/>
<circle cx="463.3" cy="182.7" r="4"/>
<circle cx="459.7" cy="189.7" r="4"/>
<circle cx="456.1" cy="191.7" r="4"/>
<circle cx="452.6" cy="197.5" r="4"/>
<circle cx="448.7" cy="201.4" r="4"/>
<circle cx="444.1" cy="206.1" r="4"/>
<circle cx="439.4" cy="208.8" r="4"/>
<circle cx="447.6" cy="207.2" r="4"/>
<circle cx="442.7" cy="211.9" r="4"/>
<line x1="393.87" y1="271.2" x2="558.4300000000001" y2="65.3" stroke-width="1.2"/>
</g>
<clipPath id="cp3"><rect x="558.4300000000001" y="44.0" width="164.56" height="233.75"/></clipPath>
<g clip-path="url(#cp3)">
<circle cx="561.3" cy="273.4" r="4"/>
<circle cx="561.5" cy="272.4" r="4"/>
<circle cx="565.8" cy="266.4" r="4"/>
<circle cx="559.6" cy="277.4" r="4"/>
<circle cx="561.8" cy="272.7" r="4"/>
<circle cx="560.7" cy="274.9" r="4"/>
<circle cx="564.4" cy="270.3" r="4"/>
<circle cx="565.3" cy="268.4" r="4"/>
<circle cx="559.7" cy="275.4" r="4"/>
<circle cx="565.6" cy="267.5" r="4"/>
<circle cx="564.4" cy="270.6" r="4"/>
<circle cx="560.9" cy="274.3" r="4"/>
<circle cx="566.0" cy="264.3" r="4"/>
<circle cx="561.4" cy="274.2" r="4"/>
<circle cx="565.1" cy="269.9" r="4"/>
<circle cx="559.8" cy="274.8" r="4"/>
<circle cx="562.6" cy="270.6" r="4"/>
<circle cx="563.0" cy="270.3" r="4"/>
<circle cx="565.9" cy="268.2" r="4"/>
<circle cx="565.4" cy="266.3" r="4"/>
<circle cx="563.3" cy="271.3" r="4"/>
<circle cx="559.6" cy="276.7" r="4"/>
<circle cx="562.4" cy="272.3" r="4"/>
<circle cx="562.0" cy="272.2" r="4"/>
<circle cx="566.6" cy="265.1" r="4"/>
<circle cx="564.3" cy="268.3" r="4"/>
<circle cx="562.3" cy="271.8" r="4"/>
<circle cx="562.0" cy="271.1" r="4"/>
<circle cx="564.9" cy="268.1" r="4"/>
<circle cx="560.0" cy="273.9" r="4"/>
<circle cx="565.3" cy="269.3" r="4"/>
<circle cx="564.2" cy="271.0" r="4"/>
<circle cx="562.5" cy="270.6" r="4"/>
<circle cx="564.5" cy="270.4" r="4"/>
<circle cx="562.2" cy="272.2" r="4"/>
<circle cx="560.3" cy="274.5" r="4"/>
<circle cx="562.3" cy="272.3" r="4"/>
<circle cx="559.6" cy="275.9" r="4"/>
<circle cx="559.9" cy="273.4" r="4"/>
<circle cx="562.5" cy="274.4" r="4"/>
<circle cx="565.4" cy="266.6" r="4"/>
<circle cx="560.8" cy="271.1" r="4"/>
<circle cx="563.0" cy="270.8" r="4"/>
<circle cx="566.5" cy="266.1" r="4"/>
<circle cx="565.4" cy="266.7" r="4"/>
<circle cx="565.9" cy="264.7" r="4"/>
<circle cx="564.3" cy="270.5" r="4"/>
<circle cx="563.6" cy="269.9" r="4"/>
<circle cx="563.6" cy="270.3" r="4"/>
<circle cx="563.7" cy="269.2" r="4"/>
<circle cx="562.7" cy="271.0" r="4"/>
<circle cx="561.9" cy="271.5" r="4"/>
<circle cx="561.0" cy="274.0" r="4"/>
<circle cx="559.7" cy="275.1" r="4"/>
<circle cx="562.0" cy="273.0" r="4"/>
<circle cx="565.0" cy="268.9" r="4"/>
<circle cx="563.3" cy="270.5" r="4"/>
<circle cx="560.5" cy="274.4" r="4"/>
<circle cx="565.3" cy="269.1" r="4"/>
<circle cx="559.6" cy="273.6" r="4"/>
<circle cx="566.1" cy="266.7" r="4"/>
<circle cx="564.1" cy="271.0" r="4"/>
<circle cx="563.4" cy="269.0" r="4"/>
<circle cx="562.3" cy="272.6" r="4"/>
<circle cx="565.4" cy="267.0" r="4"/>
<circle cx="559.3" cy="275.8" r="4"/>
<circle cx="559.4" cy="275.4" r="4"/>
<circle cx="563.1" cy="270.5" r="4"/>
<circle cx="561.5" cy="273.6" r="4"/>
<circle cx="562.2" cy="271.8" r="4"/>
<circle cx="563.2" cy="268.1" r="4"/>
<circle cx="559.6" cy="277.4" r="4"/>
<circle cx="566.5" cy="266.0" r="4"/>
<circle cx="564.3" cy="268.6" r="4"/>
<circle cx="560.0" cy="276.1" r="4"/>
<circle cx="564.7" cy="270.1" r="4"/>
<circle cx="563.2" cy="268.0" r="4"/>
<circle cx="564.3" cy="269.4" r="4"/>
<circle cx="564.7" cy="266.1" r="4"/>
<circle cx="566.6" cy="265.3" r="4"/>
<circle cx="560.1" cy="274.6" r="4"/>
<circle cx="566.6" cy="265.3" r="4"/>
<circle cx="562.8" cy="270.3" r="4"/>
<circle cx="560.7" cy="272.5" r="4"/>
<circle cx="562.0" cy="271.6" r="4"/>
<circle cx="562.0" cy="272.0" r="4"/>
<circle cx="565.9" cy="266.7" r="4"/>
<circle cx="563.1" cy="269.0" r="4"/>
<circle cx="559.7" cy="274.2" r="4"/>
<circle cx="564.5" cy="269.9" r="4"/>
<circle cx="562.9" cy="271.6" r="4"/>
<circle cx="565.3" cy="267.3" r="4"/>
<circle cx="559.6" cy="276.1" r="4"/>
<circle cx="565.7" cy="267.6" r="4"/>
<circle cx="565.9" cy="268.0" r="4"/>
<circle cx="559.3" cy="276.1" r="4"/>
<circle cx="562.8" cy="270.6" r="4"/>
<circle cx="560.2" cy="273.5" r="4"/>
<circle cx="563.2" cy="270.6" r="4"/>
<circle cx="559.9" cy="272.5" r="4"/>
<circle cx="565.8" cy="267.1" r="4"/>
<circle cx="560.6" cy="270.3" r="4"/>
<circle cx="564.2" cy="268.0" r="4"/>
<circle cx="564.1" cy="268.7" r="4"/>
<circle cx="561.6" cy="273.2" r="4"/>
<circle cx="560.8" cy="277.0" r="4"/>
<circle cx="566.0" cy="266.9" r="4"/>
<circle cx="559.5" cy="275.3" r="4"/>
<circle cx="561.1" cy="271.1" r="4"/>
<circle cx="561.7" cy="274.2" r="4"/>
<circle cx="563.6" cy="267.8" r="4"/>
<circle cx="562.0" cy="272.5" r="4"/>
<circle cx="560.1" cy="273.9" r="4"/>
<circle cx="563.5" cy="273.1" r="4"/>
<circle cx="564.6" cy="268.5" r="4"/>
<circle cx="564.5" cy="269.2" r="4"/>
<circle cx="562.9" cy="270.2" r="4"/>
<circle cx="561.5" cy="272.7" r="4"/>
<circle cx="559.3" cy="277.1" r="4"/>
<circle cx="563.2" cy="269.4" r="4"/>
<circle cx="563.9" cy="268.8" r="4"/>
<circle cx="562.5" cy="270.7" r="4"/>
<circle cx="566.4" cy="265.1" r="4"/>
<circle cx="560.8" cy="272.6" r="4"/>
<circle cx="565.3" cy="267.7" r="4"/>
<circle cx="564.6" cy="270.3" r="4"/>
<circle cx="565.9" cy="268.5" r="4"/>
<circle cx="566.1" cy="265.0" r="4"/>
<circle cx="561.0" cy="272.7" r="4"/>
<circle cx="566.1" cy="266.5" r="4"/>
<circle cx="562.2" cy="272.3" r="4"/>
<circle cx="564.3" cy="269.0" r="4"/>
<circle cx="566.3" cy="266.3" r="4"/>
<circle cx="563.7" cy="270.3" r="4"/>
<circle cx="563.6" cy="270.8" r="4"/>
<circle cx="559.8" cy="272.6" r="4"/>
<circle cx="563.7" cy="269.6" r="4"/>
<circle cx="561.0" cy="274.2" r="4"/>
<circle cx="562.1" cy="273.5" r="4"/>
<circle cx="562.1" cy="272.9" r="4"/>
<circle cx="566.5" cy="265.3" r="4"/>
<circle cx="564.0" cy="268.6" r="4"/>
<circle cx="564.6" cy="268.9" r="4"/>
<circle cx="560.5" cy="274.1" r="4"/>
<circle cx="561.5" cy="273.2" r="4"/>
<circle cx="565.8" cy="268.4" r="4"/>
<circle cx="560.1" cy="273.1" r="4"/>
<circle cx="566.3" cy="265.9" r="4"/>
<circle cx="562.4" cy="268.7" r="4"/>
<circle cx="562.1" cy="272.8" r="4"/>
<circle cx="563.1" cy="270.9" r="4"/>
<circle cx="562.5" cy="270.4" r="4"/>
<circle cx="562.7" cy="271.4" r="4"/>
<circle cx="562.4" cy="273.2" r="4"/>
<circle cx="564.4" cy="270.0" r="4"/>
<circle cx="561.3" cy="273.0" r="4"/>
<circle cx="560.5" cy="273.8" r="4"/>
<circle cx="562.5" cy="271.6" r="4"/>
<circle cx="559.9" cy="273.8" r="4"/>
<circle cx="562.6" cy="270.2" r="4"/>
<circle cx="562.9" cy="270.5" r="4"/>
<circle cx="565.1" cy="268.0" r="4"/>
<circle cx="560.1" cy="275.1" r="4"/>
<circle cx="562.2" cy="271.2" r="4"/>
<circle cx="565.0" cy="267.0" r="4"/>
<circle cx="561.8" cy="272.4" r="4"/>
<circle cx="565.4" cy="267.0" r="4"/>
<circle cx="564.6" cy="269.1" r="4"/>
<circle cx="559.6" cy="277.1" r="4"/>
<circle cx="562.1" cy="273.2" r="4"/>
<circle cx="571.3" cy="260.8" r="4"/>
<circle cx="570.1" cy="261.8" r="4"/>
<circle cx="571.7" cy="256.7" r="4"/>
<circle cx="574.0" cy="257.4" r="4"/>
<circle cx="572.6" cy="259.2" r="4"/>
<circle cx="568.4" cy="263.8" r="4"/>
<circle cx="571.2" cy="260.7" r="4"/>
<circle cx="571.3" cy="260.3" r="4"/>
<circle cx="566.8" cy="264.9" r="4"/>
<circle cx="567.7" cy="261.8" r="4"/>
<circle cx="569.6" cy="264.5" r="4"/>
<circle cx="568.1" cy="263.9" r="4"/>
<circle cx="568.6" cy="263.2" r="4"/>
<circle cx="572.2" cy="258.5" r="4"/>
<circle cx="574.6" cy="255.5" r="4"/>
<circle cx="570.4" cy="261.3" r="4"/>
<circle cx="572.0" cy="257.2" r="4"/>
<circle cx="572.9" cy="258.1" r="4"/>
<circle cx="572.2" cy="258.6" r="4"/>
<circle cx="572.1" cy="258.6" r="4"/>
<circle cx="566.7" cy="265.7" r="4"/>
<circle cx="573.8" cy="256.4" r="4"/>
<circle cx="568.0" cy="262.6" r="4"/>
<circle cx="568.1" cy="263.9" r="4"/>
<circle cx="570.9" cy="259.9" r="4"/>
<circle cx="571.5" cy="259.4" r="4"/>
<circle cx="572.9" cy="258.9" r="4"/>
<circle cx="569.1" cy="263.8" r="4"/>
<circle cx="574.4" cy="256.9" r="4"/>
<circle cx="571.8" cy="258.6" r="4"/>
<circle cx="573.6" cy="257.5" r="4"/>
<circle cx="570.6" cy="262.1" r="4"/>
<circle cx="567.2" cy="264.7" r="4"/>
<circle cx="566.8" cy="264.9" r="4"/>
<circle cx="571.9" cy="261.4" r="4"/>
<circle cx="570.2" cy="258.6" r="4"/>
<circle cx="570.3" cy="260.9" r="4"/>
<circle cx="569.3" cy="262.4" r="4"/>
<circle cx="568.1" cy="262.3" r="4"/>
<circle cx="570.6" cy="260.5" r="4"/>
<circle cx="568.8" cy="263.9" r="4"/>
<circle cx="574.0" cy="252.7" r="4"/>
<circle cx="568.1" cy="265.5" r="4"/>
<circle cx="574.6" cy="255.2" r="4"/>
<circle cx="573.7" cy="255.0" r="4"/>
<circle cx="569.8" cy="263.2" r="4"/>
<circle cx="573.0" cy="257.4" r="4"/>
<circle cx="571.4" cy="258.8" r="4"/>
<circle cx="570.5" cy="257.1" r="4"/>
<circle cx="573.3" cy="258.2" r="4"/>
<circle cx="573.5" cy="256.7" r="4"/>
<circle cx="568.3" cy="262.6" r="4"/>
<circle cx="574.1" cy="255.7" r="4"/>
<circle cx="566.9" cy="267.3" r="4"/>
<circle cx="566.7" cy="265.2" r="4"/>
<circle cx="570.6" cy="260.3" r="4"/>
<circle cx="569.1" cy="261.9" r="4"/>
<circle cx="570.1" cy="259.5" r="4"/>
<circle cx="570.6" cy="259.0" r="4"/>
<circle cx="570.5" cy="260.1" r="4"/>
<circle cx="574.1" cy="255.3" r="4"/>
<circle cx="574.2" cy="257.3" r="4"/>
<circle cx="569.5" cy="262.2" r="4"/>
<circle cx="569.0" cy="262.3" r="4"/>
<circle cx="572.0" cy="259.2" r="4"/>
<circle cx="568.3" cy="263.5" r="4"/>
<circle cx="570.0" cy="262.6" r="4"/>
<circle cx="572.6" cy="255.6" r="4"/>
<circle cx="566.7" cy="262.6" r="4"/>
<circle cx="573.0" cy="257.9" r="4"/>
<circle cx="572.7" cy="257.1" r="4"/>
<circle cx="569.8" cy="261.9" r="4"/>
<circle cx="568.7" cy="261.2" r="4"/>
<circle cx="571.1" cy="259.2" r="4"/>
<circle cx="569.1" cy="262.5" r="4"/>
<circle cx="573.4" cy="257.1" r="4"/>
<circle cx="571.5" cy="259.1" r="4"/>
<circle cx="569.2" cy="263.9" r="4"/>
<circle cx="573.3" cy="255.9" r="4"/>
<circle cx="571.7" cy="260.2" r="4"/>
<circle cx="567.7" cy="263.6" r="4"/>
<circle cx="570.1" cy="261.1" r="4"/>
<circle cx="570.7" cy="258.8" r="4"/>
<circle cx="574.4" cy="255.4" r="4"/>
<circle cx="569.3" cy="260.8" r="4"/>
<circle cx="570.3" cy="262.2" r="4"/>
<circle cx="574.7" cy="254.1" r="4"/>
<circle cx="570.2" cy="261.5" r="4"/>
<circle cx="573.5" cy="256.4" r="4"/>
<circle cx="567.5" cy="264.7" r="4"/>
<circle cx="569.9" cy="260.1" r="4"/>
<circle cx="568.2" cy="266.8" r="4"/>
<circle cx="573.9" cy="255.6" r="4"/>
<circle cx="571.2" cy="261.9" r="4"/>
<circle cx="568.5" cy="261.6" r="4"/>
<circle cx="567.4" cy="267.8" r="4"/>
<circle cx="570.1" cy="262.7" r="4"/>
<circle cx="567.5" cy="267.3" r="4"/>
<circle cx="570.7" cy="258.0" r="4"/>
<circle cx="572.7" cy="259.7" r="4"/>
<circle cx="569.2" cy="262.2" r="4"/>
<circle cx="568.0" cy="264.8" r="4"/>
<circle cx="569.6" cy="264.5" r="4"/>
<circle cx="568.0" cy="264.5" r="4"/>
<circle cx="573.6" cy="255.5" r="4"/>
<circle cx="567.4" cy="265.1" r="4"/>
<circle cx="572.8" cy="256.2" r="4"/>
<circle cx="569.4" cy="262.7" r="4"/>
<circle cx="572.7" cy="257.8" r="4"/>
<circle cx="573.0" cy="257.9" r="4"/>
<circle cx="567.8" cy="263.8" r="4"/>
<circle cx="572.9" cy="254.6" r="4"/>
<circle cx="574.4" cy="254.8" r="4"/>
<circle cx="571.3" cy="259.3" r="4"/>
<circle cx="572.0" cy="259.6" r="4"/>
<circle cx="569.3" cy="263.4" r="4"/>
<circle cx="568.1" cy="261.8" r="4"/>
<circle cx="572.8" cy="259.2" r="4"/>
<circle cx="573.4" cy="258.1" r="4"/>
<circle cx="568.4" cy="263.7" r="4"/>
<circle cx="567.6" cy="265.2" r="4"/>
<circle cx="569.6" cy="259.0" r="4"/>
<circle cx="571.8" cy="262.4" r="4"/>
<circle cx="569.7" cy="261.3" r="4"/>
<circle cx="574.6" cy="254.1" r="4"/>
<circle cx="573.2" cy="258.7" r="4"/>
<circle cx="574.2" cy="256.6" r="4"/>
<circle cx="571.6" cy="258.6" r="4"/>
<circle cx="572.9" cy="255.0" r="4"/>
<circle cx="574.5" cy="256.7" r="4"/>
<circle cx="567.0" cy="267.8" r="4"/>
<circle cx="571.4" cy="258.0" r="4"/>
<circle cx="568.2" cy="261.5" r="4"/>
<circle cx="573.2" cy="257.5" r="4"/>
<circle cx="568.6" cy="266.6" r="4"/>
<circle cx="572.8" cy="255.5" r="4"/>
<circle cx="569.4" cy="262.5" r="4"/>
<circle cx="572.0" cy="257.0" r="4"/>
<circle cx="572.2" cy="258.4" r="4"/>
<circle cx="574.1" cy="256.3" r="4"/>
<circle cx="573.8" cy="256.8" r="4"/>
<circle cx="570.3" cy="258.8" r="4"/>
<circle cx="572.3" cy="256.1" r="4"/>
<circle cx="568.2" cy="267.0" r="4"/>
<circle cx="567.5" cy="266.2" r="4"/>
<circle cx="572.5" cy="255.3" r="4"/>
<circle cx="574.1" cy="256.3" r="4"/>
<circle cx="572.8" cy="259.6" r="4"/>
<circle cx="570.9" cy="260.1" r="4"/>
<circle cx="571.8" cy="259.0" r="4"/>
<circle cx="579.1" cy="247.6" r="4"/>
<circle cx="576.2" cy="251.4" r="4"/>
<circle cx="578.2" cy="252.7" r="4"/>
<circle cx="575.1" cy="252.4" r="4"/>
<circle cx="580.5" cy="248.2" r="4"/>
<circle cx="579.8" cy="247.4" r="4"/>
<circle cx="577.1" cy="250.9" r="4"/>
<circle cx="575.0" cy="256.2" r="4"/>
<circle cx="582.6" cy="245.5" r="4"/>
<circle cx="575.9" cy="257.4" r="4"/>
<circle cx="577.6" cy="252.9" r="4"/>
<circle cx="575.1" cy="258.0" r="4"/>
<circle cx="578.0" cy="249.6" r="4"/>
<circle cx="578.2" cy="250.2" r="4"/>
<circle cx="579.3" cy="247.0" r="4"/>
<circle cx="577.5" cy="250.5" r="4"/>
<circle cx="576.9" cy="253.2" r="4"/>
<circle cx="581.4" cy="245.3" r="4"/>
<circle cx="577.2" cy="252.4" r="4"/>
<circle cx="577.6" cy="249.9" r="4"/>
<circle cx="578.9" cy="248.7" r="4"/>
<circle cx="577.1" cy="253.6" r="4"/>
<circle cx="580.9" cy="246.7" r="4"/>
<circle cx="575.6" cy="253.7" r="4"/>
<circle cx="577.5" cy="251.8" r="4"/>
<circle cx="578.3" cy="248.3" r="4"/>
<circle cx="577.0" cy="248.5" r="4"/>
<circle cx="581.8" cy="246.1" r="4"/>
<circle cx="577.8" cy="251.5" r="4"/>
<circle cx="578.3" cy="254.5" r="4"/>
<circle cx="587.4" cy="238.6" r="4"/>
<circle cx="585.3" cy="236.2" r="4"/>
<circle cx="584.1" cy="242.2" r="4"/>
<circle cx="590.2" cy="232.9" r="4"/>
<circle cx="591.8" cy="232.2" r="4"/>
<circle cx="583.8" cy="245.4" r="4"/>
<circle cx="586.5" cy="239.1" r="4"/>
<circle cx="586.4" cy="238.2" r="4"/>
<circle cx="589.1" cy="238.0" r="4"/>
<circle cx="589.7" cy="233.9" r="4"/>
<circle cx="611.6" cy="208.4" r="4"/>
<circle cx="606.4" cy="210.7" r="4"/>
<circle cx="603.1" cy="213.5" r="4"/>
<circle cx="598.7" cy="222.4" r="4"/>
<circle cx="590.2" cy="229.4" r="4"/>
<circle cx="587.5" cy="233.7" r="4"/>
<circle cx="586.4" cy="240.3" r="4"/>
<circle cx="591.1" cy="231.8" r="4"/>
<circle cx="594.6" cy="225.5" r="4"/>
<circle cx="600.9" cy="217.0" r="4"/>
<line x1="558.4300000000001" y1="277.0" x2="722.99" y2="55.5" stroke-width="1.2"/>
</g>
</g>
<rect x="64.75" y="44.00" width="164.56" height="233.75" fill="none" stroke="#000" stroke-width="1"/>
<rect x="229.31" y="44.00" width="164.56" height="233.75" fill="none" stroke="#000" stroke-width="1"/>
<rect x="393.87" y="44.00" width="164.56" height="233.75" fill="none" stroke="#000" stroke-width="1"/>
<rect x="558.43" y="44.00" width="164.56" height="233.75" fill="none" stroke="#000" stroke-width="1"/>
<text x="321.5" y="333.6" font-size="16">Measured SOC stock ( kg m<tspan font-size="10.5" dy="-8">−2</tspan><tspan dy="8"> )</tspan></text>
<text transform="translate(15.7,268.7) rotate(-90)" font-size="16">Predicted SOC stock ( kg m<tspan font-size="10.5" dy="-8">−2</tspan><tspan dy="8"> )</tspan></text>
<rect x="64.60" y="386.50" width="273.70" height="269.80" fill="none" stroke="#000" stroke-width="1"/>
<line x1="64.60" y1="379.20" x2="64.60" y2="386.50" stroke="#000" stroke-width="1"/>
<line x1="64.60" y1="656.30" x2="64.60" y2="664.50" stroke="#000" stroke-width="1"/>
<line x1="133.03" y1="379.20" x2="133.03" y2="386.50" stroke="#000" stroke-width="1"/>
<line x1="133.03" y1="656.30" x2="133.03" y2="664.50" stroke="#000" stroke-width="1"/>
<text x="133.03" y="681.50" font-size="14" text-anchor="middle">30</text>
<line x1="201.45" y1="379.20" x2="201.45" y2="386.50" stroke="#000" stroke-width="1"/>
<line x1="201.45" y1="656.30" x2="201.45" y2="664.50" stroke="#000" stroke-width="1"/>
<text x="201.45" y="681.50" font-size="14" text-anchor="middle">40</text>
<line x1="269.88" y1="379.20" x2="269.88" y2="386.50" stroke="#000" stroke-width="1"/>
<line x1="269.88" y1="656.30" x2="269.88" y2="664.50" stroke="#000" stroke-width="1"/>
<text x="269.88" y="681.50" font-size="14" text-anchor="middle">50</text>
<line x1="338.30" y1="379.20" x2="338.30" y2="386.50" stroke="#000" stroke-width="1"/>
<line x1="338.30" y1="656.30" x2="338.30" y2="664.50" stroke="#000" stroke-width="1"/>
<line x1="57.30" y1="645.40" x2="64.60" y2="645.40" stroke="#000" stroke-width="1"/>
<line x1="338.30" y1="645.40" x2="345.80" y2="645.40" stroke="#000" stroke-width="1"/>
<text x="49.80" y="651.10" font-size="14" text-anchor="end">0</text>
<line x1="57.30" y1="602.49" x2="64.60" y2="602.49" stroke="#000" stroke-width="1"/>
<line x1="338.30" y1="602.49" x2="345.80" y2="602.49" stroke="#000" stroke-width="1"/>
<text x="49.80" y="608.19" font-size="14" text-anchor="end">5</text>
<line x1="57.30" y1="559.57" x2="64.60" y2="559.57" stroke="#000" stroke-width="1"/>
<line x1="338.30" y1="559.57" x2="345.80" y2="559.57" stroke="#000" stroke-width="1"/>
<text x="49.80" y="565.27" font-size="14" text-anchor="end">10</text>
<line x1="57.30" y1="516.65" x2="64.60" y2="516.65" stroke="#000" stroke-width="1"/>
<line x1="338.30" y1="516.65" x2="345.80" y2="516.65" stroke="#000" stroke-width="1"/>
<text x="49.80" y="522.36" font-size="14" text-anchor="end">15</text>
<line x1="57.30" y1="473.74" x2="64.60" y2="473.74" stroke="#000" stroke-width="1"/>
<line x1="338.30" y1="473.74" x2="345.80" y2="473.74" stroke="#000" stroke-width="1"/>
<text x="49.80" y="479.44" font-size="14" text-anchor="end">20</text>
<line x1="57.30" y1="430.82" x2="64.60" y2="430.82" stroke="#000" stroke-width="1"/>
<line x1="338.30" y1="430.82" x2="345.80" y2="430.82" stroke="#000" stroke-width="1"/>
<text x="49.80" y="436.52" font-size="14" text-anchor="end">25</text>
<line x1="57.30" y1="387.91" x2="64.60" y2="387.91" stroke="#000" stroke-width="1"/>
<line x1="338.30" y1="387.91" x2="345.80" y2="387.91" stroke="#000" stroke-width="1"/>
<clipPath id="cpm"><rect x="64.6" y="386.5" width="273.70000000000005" height="269.79999999999995"/></clipPath>
<g clip-path="url(#cpm)">
<line x1="64.60" y1="596.91" x2="338.30" y2="501.21" stroke="#000" stroke-width="1"/>
<line x1="64.60" y1="634.59" x2="338.30" y2="611.15" stroke="#999" stroke-width="1"/>
<line x1="64.60" y1="634.59" x2="338.30" y2="611.15" stroke="#000" stroke-width="1" stroke-dasharray="4.5 4"/>
<line x1="64.60" y1="610.04" x2="338.30" y2="541.89" stroke="#666" stroke-width="1" stroke-dasharray="1 1.8"/>
<line x1="64.60" y1="613.73" x2="338.30" y2="550.30" stroke="#222" stroke-width="1" stroke-dasharray="4.5 2 2.5 2"/>
<g fill="none" stroke="#000" stroke-width="1">
<circle cx="64.6" cy="596.9" r="4.1"/>
<circle cx="133.0" cy="573.0" r="4.1"/>
<circle cx="269.9" cy="524.7" r="4.1"/>
<path d="M58.8 634.6H70.4M64.6 628.8V640.4" stroke="#333"/>
<path d="M127.2 628.8H138.8M133.0 623.0V634.6" stroke="#333"/>
<path d="M264.1 617.1H275.7M269.9 611.3V622.9" stroke="#333"/>
<path d="M59.3 608.0H69.9L64.6 617.2Z" stroke="#000"/>
<path d="M127.8 590.4H138.3L133.0 599.6Z" stroke="#000"/>
<path d="M264.6 556.5H275.1L269.9 565.7Z" stroke="#000"/>
<rect x="60.3" y="610.2" width="8.6" height="8.6" stroke="#444"/>
<rect x="128.7" y="593.0" width="8.6" height="8.6" stroke="#444"/>
<rect x="265.6" y="562.1" width="8.6" height="8.6" stroke="#444"/>
</g>
</g>
<text x="79.00" y="420.30" font-size="16" text-anchor="start">Dambidolo</text>
<text x="79.00" y="435.60" font-size="16" text-anchor="start">Kipsing</text>
<text x="79.00" y="450.90" font-size="16" text-anchor="start">Mbinga</text>
<text x="79.00" y="466.20" font-size="16" text-anchor="start">Mega</text>
<g fill="none" stroke="#000" stroke-width="1">
<circle cx="175.7" cy="415.0" r="3"/>
<path d="M171.6 430.4H179.8M175.7 426.3V434.5" stroke="#000"/>
<path d="M171.8 443.2H179.6L175.7 450.0Z" stroke="#000"/>
<rect x="172.6" y="458.1" width="6.2" height="6.2" stroke="#000"/>
</g>
<line x1="196.30" y1="414.80" x2="241.80" y2="414.80" stroke="#555" stroke-width="1.5"/>
<line x1="196.30" y1="430.40" x2="241.80" y2="430.40" stroke="#000" stroke-width="1" stroke-dasharray="4 4"/>
<line x1="196.30" y1="445.60" x2="241.80" y2="445.60" stroke="#333" stroke-width="1" stroke-dasharray="1 3"/>
<line x1="196.30" y1="461.10" x2="241.80" y2="461.10" stroke="#333" stroke-width="1" stroke-dasharray="1 3 4 3"/>
<text x="201.10" y="708.60" font-size="16" text-anchor="middle">Soil depth (cm)</text>
<text transform="translate(15.5,594.5) rotate(-90)" font-size="16">SOC stock ( kg m<tspan font-size="10.5" dy="-8">−2</tspan><tspan dy="8"> )</tspan></text>
<rect x="445.50" y="386.50" width="277.50" height="266.80" fill="none" stroke="#000" stroke-width="1"/>
<line x1="445.50" y1="379.10" x2="445.50" y2="386.50" stroke="#000" stroke-width="1"/>
<line x1="445.50" y1="653.30" x2="445.50" y2="660.80" stroke="#000" stroke-width="1"/>
<line x1="438.10" y1="652.60" x2="445.50" y2="652.60" stroke="#000" stroke-width="1"/>
<line x1="723.00" y1="652.60" x2="730.50" y2="652.60" stroke="#000" stroke-width="1"/>
<line x1="522.65" y1="379.10" x2="522.65" y2="386.50" stroke="#000" stroke-width="1"/>
<line x1="522.65" y1="653.30" x2="522.65" y2="660.80" stroke="#000" stroke-width="1"/>
<line x1="438.10" y1="578.60" x2="445.50" y2="578.60" stroke="#000" stroke-width="1"/>
<line x1="723.00" y1="578.60" x2="730.50" y2="578.60" stroke="#000" stroke-width="1"/>
<text x="522.65" y="677.50" font-size="12.5" text-anchor="middle">5</text>
<text x="430.00" y="583.10" font-size="12.5" text-anchor="end">5</text>
<line x1="599.80" y1="379.10" x2="599.80" y2="386.50" stroke="#000" stroke-width="1"/>
<line x1="599.80" y1="653.30" x2="599.80" y2="660.80" stroke="#000" stroke-width="1"/>
<line x1="438.10" y1="504.60" x2="445.50" y2="504.60" stroke="#000" stroke-width="1"/>
<line x1="723.00" y1="504.60" x2="730.50" y2="504.60" stroke="#000" stroke-width="1"/>
<text x="599.80" y="677.50" font-size="12.5" text-anchor="middle">10</text>
<text x="430.00" y="509.10" font-size="12.5" text-anchor="end">10</text>
<line x1="676.95" y1="379.10" x2="676.95" y2="386.50" stroke="#000" stroke-width="1"/>
<line x1="676.95" y1="653.30" x2="676.95" y2="660.80" stroke="#000" stroke-width="1"/>
<line x1="438.10" y1="430.60" x2="445.50" y2="430.60" stroke="#000" stroke-width="1"/>
<line x1="723.00" y1="430.60" x2="730.50" y2="430.60" stroke="#000" stroke-width="1"/>
<text x="676.95" y="677.50" font-size="12.5" text-anchor="middle">15</text>
<text x="430.00" y="435.10" font-size="12.5" text-anchor="end">15</text>
<g fill="none" stroke="#000" stroke-width="1.1">
<circle cx="469.3" cy="572.6" r="3"/>
<circle cx="484.1" cy="552.3" r="3"/>
<circle cx="488.0" cy="555.6" r="3"/>
<circle cx="489.1" cy="560.2" r="3"/>
<circle cx="487.7" cy="566.0" r="3"/>
<circle cx="496.4" cy="550.9" r="3"/>
<circle cx="501.7" cy="550.1" r="3"/>
<circle cx="506.1" cy="547.9" r="3"/>
<circle cx="501.9" cy="556.4" r="3"/>
<circle cx="516.4" cy="542.0" r="3"/>
<circle cx="520.8" cy="541.3" r="3"/>
<circle cx="485.3" cy="581.6" r="3"/>
<circle cx="486.6" cy="586.0" r="3"/>
<circle cx="489.9" cy="589.2" r="3"/>
<circle cx="471.0" cy="593.6" r="3"/>
<circle cx="467.4" cy="602.4" r="3"/>
<circle cx="467.4" cy="606.2" r="3"/>
<circle cx="459.2" cy="604.0" r="3"/>
<circle cx="483.5" cy="600.0" r="3"/>
<circle cx="500.6" cy="605.4" r="3"/>
<circle cx="514.8" cy="595.8" r="3"/>
<circle cx="521.4" cy="596.4" r="3"/>
<circle cx="515.6" cy="586.5" r="3"/>
<circle cx="457.0" cy="618.8" r="3"/>
<circle cx="457.0" cy="628.6" r="3"/>
<circle cx="461.4" cy="616.6" r="3"/>
<circle cx="463.1" cy="625.4" r="3"/>
<circle cx="466.9" cy="615.5" r="3"/>
<circle cx="468.5" cy="626.5" r="3"/>
<circle cx="471.8" cy="614.4" r="3"/>
<circle cx="476.2" cy="612.8" r="3"/>
<circle cx="477.8" cy="618.8" r="3"/>
<circle cx="474.5" cy="624.3" r="3"/>
<circle cx="481.1" cy="623.2" r="3"/>
<circle cx="485.0" cy="618.8" r="3"/>
<circle cx="488.2" cy="624.3" r="3"/>
<circle cx="486.6" cy="629.2" r="3"/>
<circle cx="457.0" cy="625.4" r="3"/>
<circle cx="460.3" cy="618.8" r="3"/>
<circle cx="463.1" cy="628.1" r="3"/>
<circle cx="527.9" cy="605.1" r="3"/>
<circle cx="527.4" cy="613.9" r="3"/>
<circle cx="553.1" cy="596.4" r="3"/>
<circle cx="565.1" cy="588.7" r="3"/>
<circle cx="557.5" cy="579.4" r="3"/>
<circle cx="570.0" cy="571.7" r="3"/>
<circle cx="577.7" cy="566.3" r="3"/>
<circle cx="547.1" cy="587.1" r="3"/>
<circle cx="577.2" cy="544.4" r="3"/>
<circle cx="577.2" cy="557.5" r="3"/>
<circle cx="578.3" cy="566.3" r="3"/>
<circle cx="583.2" cy="571.7" r="3"/>
<circle cx="588.7" cy="565.7" r="3"/>
<circle cx="593.1" cy="551.0" r="3"/>
<circle cx="598.5" cy="547.7" r="3"/>
<circle cx="601.8" cy="554.8" r="3"/>
<circle cx="598.0" cy="558.6" r="3"/>
<circle cx="604.0" cy="543.3" r="3"/>
<circle cx="631.4" cy="544.9" r="3"/>
<circle cx="634.6" cy="540.5" r="3"/>
<circle cx="622.1" cy="540.0" r="3"/>
<circle cx="643.4" cy="561.9" r="3"/>
<circle cx="593.1" cy="546.0" r="3"/>
<circle cx="660.2" cy="488.7" r="3"/>
<circle cx="640.0" cy="499.9" r="3"/>
<circle cx="646.2" cy="521.2" r="3"/>
<circle cx="688.5" cy="517.3" r="3"/>
<circle cx="552.2" cy="486.6" r="3"/>
<circle cx="568.7" cy="485.9" r="3"/>
<circle cx="623.3" cy="486.6" r="3"/>
<circle cx="549.3" cy="498.5" r="3"/>
<circle cx="567.3" cy="498.8" r="3"/>
<circle cx="578.5" cy="500.3" r="3"/>
<circle cx="589.6" cy="502.4" r="3"/>
<circle cx="598.9" cy="500.0" r="3"/>
<circle cx="556.1" cy="503.9" r="3"/>
<circle cx="620.4" cy="501.0" r="3"/>
<circle cx="625.9" cy="501.0" r="3"/>
<circle cx="631.9" cy="496.3" r="3"/>
<circle cx="633.1" cy="497.4" r="3"/>
<circle cx="638.8" cy="500.3" r="3"/>
<circle cx="577.1" cy="510.3" r="3"/>
<circle cx="571.6" cy="513.9" r="3"/>
<circle cx="592.0" cy="510.0" r="3"/>
<circle cx="593.1" cy="516.1" r="3"/>
<circle cx="607.5" cy="508.2" r="3"/>
<circle cx="614.7" cy="508.2" r="3"/>
<circle cx="628.8" cy="515.8" r="3"/>
<circle cx="565.6" cy="521.5" r="3"/>
<circle cx="573.0" cy="523.3" r="3"/>
<circle cx="575.9" cy="520.1" r="3"/>
<circle cx="589.6" cy="520.7" r="3"/>
<circle cx="596.7" cy="520.4" r="3"/>
<circle cx="598.9" cy="521.1" r="3"/>
<circle cx="606.8" cy="517.5" r="3"/>
<circle cx="611.1" cy="517.5" r="3"/>
<circle cx="542.9" cy="518.9" r="3"/>
<circle cx="545.7" cy="524.7" r="3"/>
<circle cx="542.9" cy="536.2" r="3"/>
<circle cx="555.8" cy="534.7" r="3"/>
<circle cx="565.1" cy="537.6" r="3"/>
<circle cx="597.2" cy="526.8" r="3"/>
<circle cx="604.6" cy="529.7" r="3"/>
<circle cx="603.9" cy="531.9" r="3"/>
<circle cx="610.4" cy="537.3" r="3"/>
<circle cx="620.4" cy="528.3" r="3"/>
<circle cx="621.9" cy="538.3" r="3"/>
<circle cx="628.3" cy="536.2" r="3"/>
<circle cx="634.8" cy="530.4" r="3"/>
<circle cx="634.8" cy="539.8" r="3"/>
<circle cx="639.1" cy="521.1" r="3"/>
<circle cx="643.4" cy="520.4" r="3"/>
<circle cx="550.8" cy="541.2" r="3"/>
<circle cx="543.4" cy="518.9" r="3"/>
<circle cx="537.6" cy="522.5" r="3"/>
<circle cx="545.5" cy="525.4" r="3"/>
<circle cx="537.6" cy="527.6" r="3"/>
<circle cx="526.9" cy="533.3" r="3"/>
<circle cx="526.9" cy="536.2" r="3"/>
<circle cx="532.6" cy="534.7" r="3"/>
<circle cx="542.7" cy="536.2" r="3"/>
<circle cx="520.8" cy="540.2" r="3"/>
<circle cx="516.1" cy="541.6" r="3"/>
<circle cx="548.4" cy="498.1" r="3"/>
<circle cx="502.9" cy="572.9" r="3"/>
<circle cx="584.8" cy="555.8" r="3"/>
<circle cx="526.9" cy="566.7" r="3"/>
<circle cx="556.3" cy="547.2" r="3"/>
<circle cx="557.0" cy="558.3" r="3"/>
<circle cx="571.7" cy="556.0" r="3"/>
<circle cx="545.4" cy="560.2" r="3"/>
<circle cx="525.3" cy="571.0" r="3"/>
<circle cx="513.5" cy="584.4" r="3"/>
<circle cx="536.7" cy="552.7" r="3"/>
<circle cx="533.0" cy="547.6" r="3"/>
<circle cx="557.3" cy="543.4" r="3"/>
<circle cx="524.6" cy="565.3" r="3"/>
<circle cx="580.6" cy="560.6" r="3"/>
<circle cx="536.0" cy="572.8" r="3"/>
<circle cx="574.6" cy="557.0" r="3"/>
<circle cx="520.9" cy="559.1" r="3"/>
<circle cx="536.6" cy="545.5" r="3"/>
<circle cx="563.9" cy="541.2" r="3"/>
<circle cx="496.2" cy="579.5" r="3"/>
<circle cx="570.5" cy="539.1" r="3"/>
<circle cx="519.3" cy="579.2" r="3"/>
<circle cx="539.3" cy="579.6" r="3"/>
<circle cx="511.7" cy="561.5" r="3"/>
<circle cx="533.6" cy="555.4" r="3"/>
<circle cx="496.7" cy="570.0" r="3"/>
<circle cx="514.5" cy="586.2" r="3"/>
<circle cx="564.2" cy="557.9" r="3"/>
<circle cx="556.1" cy="567.2" r="3"/>
<circle cx="505.0" cy="578.4" r="3"/>
<circle cx="504.4" cy="569.7" r="3"/>
<circle cx="525.9" cy="550.3" r="3"/>
<circle cx="514.4" cy="562.8" r="3"/>
<circle cx="553.6" cy="542.3" r="3"/>
<circle cx="539.8" cy="542.3" r="3"/>
<circle cx="551.1" cy="546.5" r="3"/>
<circle cx="545.5" cy="567.5" r="3"/>
<circle cx="522.5" cy="574.3" r="3"/>
<circle cx="525.2" cy="548.9" r="3"/>
<circle cx="521.5" cy="562.6" r="3"/>
<circle cx="498.6" cy="577.0" r="3"/>
<circle cx="570.6" cy="562.7" r="3"/>
<circle cx="504.4" cy="570.8" r="3"/>
<circle cx="561.9" cy="571.0" r="3"/>
<circle cx="566.0" cy="544.0" r="3"/>
<circle cx="569.0" cy="542.3" r="3"/>
<circle cx="503.8" cy="567.4" r="3"/>
<circle cx="539.8" cy="552.3" r="3"/>
<circle cx="550.6" cy="564.5" r="3"/>
<circle cx="514.0" cy="575.7" r="3"/>
<circle cx="525.7" cy="577.8" r="3"/>
<circle cx="519.0" cy="582.7" r="3"/>
<circle cx="531.5" cy="567.4" r="3"/>
<circle cx="557.3" cy="558.5" r="3"/>
<circle cx="499.6" cy="565.4" r="3"/>
<circle cx="568.4" cy="561.1" r="3"/>
<circle cx="519.9" cy="575.1" r="3"/>
<circle cx="524.0" cy="579.0" r="3"/>
<circle cx="528.5" cy="549.1" r="3"/>
<circle cx="577.6" cy="561.1" r="3"/>
<circle cx="564.5" cy="558.5" r="3"/>
<circle cx="568.3" cy="552.1" r="3"/>
<circle cx="545.5" cy="576.1" r="3"/>
<circle cx="560.6" cy="571.3" r="3"/>
<circle cx="539.6" cy="580.9" r="3"/>
<circle cx="527.1" cy="546.5" r="3"/>
<circle cx="551.9" cy="557.0" r="3"/>
<circle cx="532.8" cy="581.4" r="3"/>
<circle cx="503.8" cy="578.3" r="3"/>
<circle cx="531.4" cy="566.3" r="3"/>
<circle cx="539.9" cy="545.0" r="3"/>
<circle cx="541.2" cy="579.5" r="3"/>
<circle cx="496.8" cy="572.7" r="3"/>
<circle cx="502.0" cy="569.2" r="3"/>
<circle cx="510.7" cy="581.0" r="3"/>
<circle cx="544.2" cy="551.2" r="3"/>
<circle cx="515.5" cy="587.0" r="3"/>
<circle cx="566.6" cy="552.0" r="3"/>
<circle cx="530.6" cy="576.5" r="3"/>
<circle cx="505.9" cy="565.4" r="3"/>
<circle cx="540.8" cy="541.7" r="3"/>
<circle cx="528.6" cy="577.2" r="3"/>
<circle cx="494.5" cy="572.9" r="3"/>
<circle cx="526.5" cy="584.9" r="3"/>
<circle cx="582.9" cy="546.0" r="3"/>
<circle cx="564.6" cy="549.1" r="3"/>
<circle cx="505.4" cy="575.8" r="3"/>
<circle cx="498.6" cy="581.9" r="3"/>
<circle cx="534.8" cy="545.6" r="3"/>
<circle cx="557.3" cy="551.6" r="3"/>
<circle cx="508.3" cy="561.4" r="3"/>
<circle cx="562.1" cy="547.9" r="3"/>
<circle cx="559.2" cy="557.2" r="3"/>
<circle cx="506.6" cy="571.2" r="3"/>
<circle cx="538.9" cy="554.8" r="3"/>
<circle cx="506.8" cy="576.3" r="3"/>
<circle cx="529.9" cy="547.4" r="3"/>
<circle cx="548.3" cy="561.1" r="3"/>
<circle cx="537.8" cy="564.3" r="3"/>
<circle cx="529.7" cy="560.6" r="3"/>
<circle cx="536.6" cy="573.9" r="3"/>
<circle cx="533.6" cy="557.8" r="3"/>
<circle cx="555.9" cy="541.9" r="3"/>
<circle cx="543.0" cy="579.2" r="3"/>
<circle cx="531.6" cy="578.6" r="3"/>
<circle cx="549.9" cy="546.6" r="3"/>
<circle cx="527.5" cy="558.2" r="3"/>
<circle cx="546.4" cy="579.3" r="3"/>
<circle cx="526.6" cy="551.1" r="3"/>
<circle cx="528.5" cy="557.0" r="3"/>
<circle cx="545.4" cy="566.9" r="3"/>
<circle cx="525.5" cy="574.1" r="3"/>
<circle cx="534.2" cy="550.4" r="3"/>
<circle cx="531.2" cy="574.0" r="3"/>
<circle cx="533.8" cy="564.9" r="3"/>
<circle cx="514.9" cy="580.2" r="3"/>
<circle cx="558.3" cy="552.8" r="3"/>
<circle cx="519.5" cy="584.0" r="3"/>
<circle cx="520.6" cy="572.0" r="3"/>
<circle cx="520.8" cy="562.1" r="3"/>
<circle cx="500.4" cy="568.3" r="3"/>
<circle cx="517.1" cy="577.5" r="3"/>
<circle cx="578.3" cy="542.0" r="3"/>
<circle cx="527.6" cy="576.3" r="3"/>
<circle cx="569.2" cy="559.8" r="3"/>
<circle cx="507.9" cy="556.2" r="3"/>
<circle cx="565.8" cy="565.2" r="3"/>
<circle cx="532.1" cy="547.1" r="3"/>
<circle cx="579.0" cy="561.0" r="3"/>
<circle cx="547.6" cy="569.1" r="3"/>
<circle cx="528.5" cy="558.2" r="3"/>
<circle cx="547.5" cy="559.6" r="3"/>
<circle cx="574.7" cy="547.4" r="3"/>
<circle cx="529.5" cy="579.9" r="3"/>
<circle cx="499.3" cy="571.6" r="3"/>
<circle cx="541.6" cy="576.9" r="3"/>
<circle cx="551.7" cy="565.4" r="3"/>
<circle cx="508.6" cy="572.5" r="3"/>
<circle cx="522.3" cy="574.3" r="3"/>
<circle cx="550.8" cy="560.1" r="3"/>
<circle cx="522.5" cy="567.6" r="3"/>
<circle cx="527.2" cy="584.8" r="3"/>
<circle cx="536.2" cy="562.4" r="3"/>
<circle cx="515.9" cy="557.4" r="3"/>
<circle cx="576.8" cy="556.7" r="3"/>
<circle cx="546.8" cy="570.6" r="3"/>
<circle cx="562.2" cy="553.8" r="3"/>
<circle cx="553.4" cy="545.7" r="3"/>
<circle cx="537.4" cy="582.7" r="3"/>
<circle cx="516.4" cy="584.4" r="3"/>
<circle cx="506.5" cy="558.8" r="3"/>
<circle cx="526.1" cy="547.9" r="3"/>
<circle cx="583.3" cy="543.7" r="3"/>
<circle cx="552.6" cy="556.8" r="3"/>
<circle cx="564.3" cy="570.4" r="3"/>
<circle cx="528.3" cy="567.5" r="3"/>
<circle cx="499.7" cy="563.5" r="3"/>
<circle cx="512.3" cy="561.1" r="3"/>
<circle cx="522.4" cy="571.0" r="3"/>
<circle cx="523.3" cy="558.9" r="3"/>
<circle cx="576.6" cy="558.7" r="3"/>
<circle cx="514.3" cy="570.6" r="3"/>
<circle cx="558.1" cy="571.7" r="3"/>
<circle cx="514.8" cy="568.5" r="3"/>
<circle cx="548.2" cy="574.0" r="3"/>
<circle cx="580.2" cy="543.2" r="3"/>
<circle cx="505.9" cy="573.5" r="3"/>
<circle cx="549.4" cy="569.1" r="3"/>
<circle cx="541.2" cy="577.1" r="3"/>
<circle cx="533.6" cy="582.4" r="3"/>
<path d="M453.4 594.2H461.8M457.6 590.0V598.4" stroke="#000"/>
<path d="M464.9 599.1H473.3M469.1 594.9V603.3" stroke="#000"/>
<path d="M485.1 569.5H493.5M489.3 565.3V573.7" stroke="#000"/>
<path d="M487.9 566.3H496.3M492.1 562.1V570.5" stroke="#000"/>
<path d="M499.9 589.2H508.3M504.1 585.0V593.4" stroke="#000"/>
<path d="M503.2 586.0H511.6M507.4 581.8V590.2" stroke="#000"/>
<path d="M510.8 605.7H519.2M515.0 601.5V609.9" stroke="#000"/>
<path d="M511.4 615.5H519.8M515.6 611.3V619.7" stroke="#000"/>
<path d="M495.0 615.0H503.4M499.2 610.8V619.2" stroke="#000"/>
<path d="M490.9 633.0H499.3M495.1 628.8V637.2" stroke="#000"/>
<path d="M518.5 589.2H526.9M522.7 585.0V593.4" stroke="#000"/>
<path d="M462.7 614.4H471.1M466.9 610.2V618.6" stroke="#000"/>
<path d="M455.0 612.2H463.4M459.2 608.0V616.4" stroke="#000"/>
<path d="M529.2 594.7H537.6M533.4 590.5V598.9" stroke="#000"/>
<path d="M537.4 607.9H545.8M541.6 603.7V612.1" stroke="#000"/>
<path d="M554.3 599.1H562.7M558.5 594.9V603.3" stroke="#000"/>
<path d="M519.9 589.8H528.3M524.1 585.6V594.0" stroke="#000"/>
<path d="M536.8 586.0H545.2M541.0 581.8V590.2" stroke="#000"/>
<path d="M558.2 542.2H566.6M562.4 538.0V546.4" stroke="#000"/>
<path d="M579.0 554.2H587.4M583.2 550.0V558.4" stroke="#000"/>
<path d="M591.0 565.7H599.4M595.2 561.5V569.9" stroke="#000"/>
<path d="M608.0 553.7H616.4M612.2 549.5V557.9" stroke="#000"/>
<path d="M624.4 555.3H632.8M628.6 551.1V559.5" stroke="#000"/>
<path d="M637.6 557.0H646.0M641.8 552.8V561.2" stroke="#000"/>
<path d="M646.3 553.7H654.7M650.5 549.5V557.9" stroke="#000"/>
<path d="M582.8 543.3H591.2M587.0 539.1V547.5" stroke="#000"/>
<path d="M592.7 544.4H601.1M596.9 540.2V548.6" stroke="#000"/>
<path d="M647.4 540.5H655.8M651.6 536.3V544.7" stroke="#000"/>
<path d="M657.7 504.4H666.1M661.9 500.2V508.6" stroke="#000"/>
<path d="M645.9 507.2H654.3M650.1 503.0V511.4" stroke="#000"/>
<path d="M643.1 514.0H651.5M647.3 509.8V518.2" stroke="#000"/>
<path d="M655.4 519.8H663.8M659.6 515.6V524.0" stroke="#000"/>
<path d="M647.6 538.6H656.0M651.8 534.4V542.8" stroke="#000"/>
<path d="M636.9 519.5H645.3M641.1 515.3V523.7" stroke="#000"/>
<path d="M609.1 486.6H617.5M613.3 482.4V490.8" stroke="#000"/>
<path d="M597.9 491.0H606.3M602.1 486.8V495.2" stroke="#000"/>
<path d="M581.8 497.4H590.2M586.0 493.2V501.6" stroke="#000"/>
<path d="M550.9 508.9H559.3M555.1 504.7V513.1" stroke="#000"/>
<path d="M599.0 511.0H607.4M603.2 506.8V515.2" stroke="#000"/>
<path d="M611.9 512.1H620.3M616.1 507.9V516.3" stroke="#000"/>
<path d="M599.0 516.1H607.4M603.2 511.9V520.3" stroke="#000"/>
<path d="M606.2 525.4H614.6M610.4 521.2V529.6" stroke="#000"/>
<path d="M617.7 526.1H626.1M621.9 521.9V530.3" stroke="#000"/>
<path d="M548.0 532.2H556.4M552.2 528.0V536.4" stroke="#000"/>
<path d="M590.4 530.4H598.8M594.6 526.2V534.6" stroke="#000"/>
<path d="M578.9 535.5H587.3M583.1 531.3V539.7" stroke="#000"/>
<path d="M575.3 538.3H583.7M579.5 534.1V542.5" stroke="#000"/>
<path d="M557.3 539.8H565.7M561.5 535.6V544.0" stroke="#000"/>
<path d="M627.7 534.7H636.1M631.9 530.5V538.9" stroke="#000"/>
<path d="M504.0 508.2H512.4M508.2 504.0V512.4" stroke="#000"/>
<path d="M551.3 548.6H559.7M555.5 544.4V552.8" stroke="#000"/>
<path d="M565.2 549.4H573.6M569.4 545.2V553.6" stroke="#000"/>
<path d="M530.2 553.2H538.6M534.4 549.0V557.4" stroke="#000"/>
<path d="M547.0 575.0H555.4M551.2 570.8V579.2" stroke="#000"/>
<path d="M557.4 567.7H565.8M561.6 563.5V571.9" stroke="#000"/>
<path d="M499.5 567.8H507.9M503.7 563.6V572.0" stroke="#000"/>
<path d="M523.6 559.5H532.0M527.8 555.3V563.7" stroke="#000"/>
<path d="M558.5 560.9H566.9M562.7 556.7V565.1" stroke="#000"/>
<path d="M533.3 571.0H541.7M537.5 566.8V575.2" stroke="#000"/>
<path d="M512.9 562.8H521.3M517.1 558.6V567.0" stroke="#000"/>
<path d="M514.4 576.4H522.8M518.6 572.2V580.6" stroke="#000"/>
<path d="M541.3 569.7H549.7M545.5 565.5V573.9" stroke="#000"/>
<path d="M557.5 545.8H565.9M561.7 541.6V550.0" stroke="#000"/>
<path d="M521.5 570.9H529.9M525.7 566.7V575.1" stroke="#000"/>
<path d="M504.1 569.0H512.5M508.3 564.8V573.2" stroke="#000"/>
<path d="M556.1 570.8H564.5M560.3 566.6V575.0" stroke="#000"/>
<path d="M557.5 559.8H565.9M561.7 555.6V564.0" stroke="#000"/>
<path d="M529.1 578.1H537.5M533.3 573.9V582.3" stroke="#000"/>
<path d="M525.6 571.7H534.0M529.8 567.5V575.9" stroke="#000"/>
<path d="M563.0 554.2H571.4M567.2 550.0V558.4" stroke="#000"/>
<path d="M520.4 569.7H528.8M524.6 565.5V573.9" stroke="#000"/>
<path d="M547.0 567.1H555.4M551.2 562.9V571.3" stroke="#000"/>
<path d="M537.2 570.6H545.6M541.4 566.4V574.8" stroke="#000"/>
<path d="M498.6 567.3H507.0M502.8 563.1V571.5" stroke="#000"/>
</g>
<line x1="445.50" y1="609.90" x2="723.00" y2="465.70" stroke="#000" stroke-width="1.25"/>
<line x1="445.50" y1="610.50" x2="723.00" y2="476.40" stroke="#000" stroke-width="1.2" stroke-dasharray="4 4"/>
<text x="459.50" y="423.40" font-size="16" text-anchor="start">Calibration</text>
<text x="459.50" y="438.70" font-size="16" text-anchor="start">Validation</text>
<g fill="none" stroke="#000" stroke-width="1">
<circle cx="556.4" cy="417.7" r="3"/>
<path d="M552.3 432.8H560.5M556.4 428.7V436.9" stroke="#000"/>
</g>
<line x1="577.30" y1="417.70" x2="622.40" y2="417.70" stroke="#000" stroke-width="1"/>
<line x1="577.30" y1="432.80" x2="622.40" y2="432.80" stroke="#000" stroke-width="1" stroke-dasharray="4 4"/>
<text x="584.2" y="704.9" font-size="16" text-anchor="middle">SOC stock<tspan font-size="11" dy="3.5">30</tspan></text>
<text transform="translate(396.9,519.4) rotate(-90)" font-size="16" text-anchor="middle">Predicted SOC stock<tspan font-size="11" dy="3.5">30</tspan><tspan dy="-3.5"> from ETM + reflectance</tspan></text>
<rect x="64.50" y="732.50" width="658.50" height="285.00" fill="none" stroke="#000" stroke-width="1"/>
<line x1="57.10" y1="1012.40" x2="64.50" y2="1012.40" stroke="#000" stroke-width="1"/>
<line x1="723.00" y1="1012.40" x2="731.00" y2="1012.40" stroke="#000" stroke-width="1"/>
<line x1="57.10" y1="929.20" x2="64.50" y2="929.20" stroke="#000" stroke-width="1"/>
<line x1="723.00" y1="929.20" x2="731.00" y2="929.20" stroke="#000" stroke-width="1"/>
<text x="49.60" y="934.20" font-size="14" text-anchor="end">5</text>
<line x1="57.10" y1="846.00" x2="64.50" y2="846.00" stroke="#000" stroke-width="1"/>
<line x1="723.00" y1="846.00" x2="731.00" y2="846.00" stroke="#000" stroke-width="1"/>
<text x="49.60" y="851.00" font-size="14" text-anchor="end">10</text>
<line x1="57.10" y1="762.80" x2="64.50" y2="762.80" stroke="#000" stroke-width="1"/>
<line x1="723.00" y1="762.80" x2="731.00" y2="762.80" stroke="#000" stroke-width="1"/>
<text x="49.60" y="767.80" font-size="14" text-anchor="end">15</text>
<text x="158.80" y="1034.70" font-size="13" text-anchor="middle">Dambidolo</text>
<text x="315.55" y="1034.70" font-size="13" text-anchor="middle">Kipsing</text>
<text x="472.10" y="1034.70" font-size="13" text-anchor="middle">Mbinga</text>
<text x="629.00" y="1034.70" font-size="13" text-anchor="middle">Mega</text>
<text x="393.70" y="1061.20" font-size="15.5" text-anchor="middle">Site</text>
<text transform="translate(15.4,954.3) rotate(-90)" font-size="16">SOC stock<tspan font-size="11" dy="3.5">30</tspan><tspan dy="-3.5"> ( kg m</tspan><tspan font-size="10.5" dy="-8">−2</tspan><tspan dy="8"> )</tspan></text>
<clipPath id="cpb"><rect x="64.5" y="732.5" width="658.5" height="285.0"/></clipPath>
<g clip-path="url(#cpb)">
<path d="M158.50 726.00C158.38 730.75 158.23 748.53 157.80 754.50C157.37 760.47 156.95 758.55 155.90 761.80C154.85 765.05 152.98 769.92 151.50 774.00C150.02 778.08 148.43 782.22 147.00 786.30C145.57 790.38 144.40 794.42 142.90 798.50C141.40 802.58 139.63 806.72 138.00 810.80C136.37 814.88 134.28 819.33 133.10 823.00C131.92 826.67 131.35 829.93 130.90 832.80C130.45 835.67 130.23 837.75 130.40 840.20C130.57 842.65 131.05 844.65 131.90 847.50C132.75 850.35 134.57 854.03 135.50 857.30C136.43 860.57 137.20 864.65 137.50 867.10C137.80 869.55 138.23 869.55 137.30 872.00C136.37 874.45 134.03 878.53 131.90 881.80C129.77 885.07 126.47 888.33 124.50 891.60C122.53 894.87 120.95 898.95 120.10 901.40C119.25 903.85 119.15 904.27 119.40 906.30C119.65 908.33 119.93 910.75 121.60 913.60C123.27 916.45 126.47 920.13 129.40 923.40C132.33 926.67 136.13 929.93 139.20 933.20C142.27 936.47 145.35 939.73 147.80 943.00C150.25 946.27 152.40 949.53 153.90 952.80C155.40 956.07 156.07 959.75 156.80 962.60C157.53 965.45 157.97 967.05 158.30 969.90C158.63 972.75 158.72 978.07 158.80 979.70L158.80 979.70C158.88 978.07 158.97 972.75 159.30 969.90C159.63 967.05 160.07 965.45 160.80 962.60C161.53 959.75 162.20 956.07 163.70 952.80C165.20 949.53 167.35 946.27 169.80 943.00C172.25 939.73 175.33 936.47 178.40 933.20C181.47 929.93 185.27 926.67 188.20 923.40C191.13 920.13 194.33 916.45 196.00 913.60C197.67 910.75 197.95 908.33 198.20 906.30C198.45 904.27 198.35 903.85 197.50 901.40C196.65 898.95 195.07 894.87 193.10 891.60C191.13 888.33 187.83 885.07 185.70 881.80C183.57 878.53 181.23 874.45 180.30 872.00C179.37 869.55 179.80 869.55 180.10 867.10C180.40 864.65 181.17 860.57 182.10 857.30C183.03 854.03 184.85 850.35 185.70 847.50C186.55 844.65 187.03 842.65 187.20 840.20C187.37 837.75 187.15 835.67 186.70 832.80C186.25 829.93 185.68 826.67 184.50 823.00C183.32 819.33 181.23 814.88 179.60 810.80C177.97 806.72 176.20 802.58 174.70 798.50C173.20 794.42 172.03 790.38 170.60 786.30C169.17 782.22 167.58 778.08 166.10 774.00C164.62 769.92 162.75 765.05 161.70 761.80C160.65 758.55 160.23 760.47 159.80 754.50C159.37 748.53 159.22 730.75 159.10 726.00Z" fill="#bebebe" stroke="#000" stroke-width="1.1"/>
<line x1="158.80" y1="749.10" x2="158.80" y2="834.80" stroke="#000" stroke-width="1" stroke-dasharray="4 4"/>
<line x1="158.80" y1="908.20" x2="158.80" y2="946.60" stroke="#000" stroke-width="1" stroke-dasharray="4 4"/>
<line x1="145.60" y1="749.10" x2="172.00" y2="749.10" stroke="#000" stroke-width="1" stroke-dasharray="4 4"/>
<line x1="145.60" y1="946.60" x2="172.00" y2="946.60" stroke="#000" stroke-width="1" stroke-dasharray="4 4"/>
<rect x="145.60" y="834.80" width="26.40" height="73.40" fill="#fff" stroke="#000" stroke-width="1"/>
<circle cx="158.80" cy="876.9" r="4.2" fill="#000"/>
<path d="M315.55 905.50C315.47 906.43 315.35 909.55 315.05 911.10C314.75 912.65 314.22 913.37 313.75 914.80C313.28 916.23 312.63 918.07 312.25 919.70C311.87 921.33 311.42 922.97 311.45 924.60C311.48 926.23 312.07 928.07 312.45 929.50C312.83 930.93 313.43 931.97 313.75 933.20C314.07 934.43 314.42 935.25 314.35 936.90C314.28 938.55 313.77 941.05 313.35 943.10C312.93 945.15 312.52 947.57 311.85 949.20C311.18 950.83 310.48 951.45 309.35 952.90C308.22 954.35 306.52 956.25 305.05 957.90C303.58 959.55 301.72 961.17 300.55 962.80C299.38 964.43 298.73 965.85 298.05 967.70C297.37 969.55 297.23 972.05 296.45 973.90C295.67 975.75 295.30 977.17 293.35 978.80C291.40 980.43 287.32 982.07 284.75 983.70C282.18 985.33 279.38 987.27 277.95 988.60C276.52 989.93 276.25 990.67 276.15 991.70C276.05 992.73 275.92 993.67 277.35 994.80C278.78 995.93 281.47 997.07 284.75 998.50C288.03 999.93 293.15 1001.77 297.05 1003.40C300.95 1005.03 305.37 1006.97 308.15 1008.30C310.93 1009.63 312.60 1010.57 313.75 1011.40C314.90 1012.23 314.75 1012.37 315.05 1013.30C315.35 1014.23 315.47 1016.38 315.55 1017.00L315.55 1017.00C315.63 1016.38 315.75 1014.23 316.05 1013.30C316.35 1012.37 316.20 1012.23 317.35 1011.40C318.50 1010.57 320.17 1009.63 322.95 1008.30C325.73 1006.97 330.15 1005.03 334.05 1003.40C337.95 1001.77 343.07 999.93 346.35 998.50C349.63 997.07 352.32 995.93 353.75 994.80C355.18 993.67 355.05 992.73 354.95 991.70C354.85 990.67 354.58 989.93 353.15 988.60C351.72 987.27 348.92 985.33 346.35 983.70C343.78 982.07 339.70 980.43 337.75 978.80C335.80 977.17 335.43 975.75 334.65 973.90C333.87 972.05 333.73 969.55 333.05 967.70C332.37 965.85 331.72 964.43 330.55 962.80C329.38 961.17 327.52 959.55 326.05 957.90C324.58 956.25 322.88 954.35 321.75 952.90C320.62 951.45 319.92 950.83 319.25 949.20C318.58 947.57 318.17 945.15 317.75 943.10C317.33 941.05 316.82 938.55 316.75 936.90C316.68 935.25 317.03 934.43 317.35 933.20C317.67 931.97 318.27 930.93 318.65 929.50C319.03 928.07 319.62 926.23 319.65 924.60C319.68 922.97 319.23 921.33 318.85 919.70C318.47 918.07 317.82 916.23 317.35 914.80C316.88 913.37 316.35 912.65 316.05 911.10C315.75 909.55 315.63 906.43 315.55 905.50Z" fill="#bebebe" stroke="#000" stroke-width="1.1"/>
<line x1="315.55" y1="936.40" x2="315.55" y2="970.40" stroke="#000" stroke-width="1" stroke-dasharray="4 4"/>
<line x1="315.55" y1="994.60" x2="315.55" y2="1000.00" stroke="#000" stroke-width="1" stroke-dasharray="4 4"/>
<line x1="302.35" y1="936.40" x2="328.75" y2="936.40" stroke="#000" stroke-width="1" stroke-dasharray="4 4"/>
<line x1="302.35" y1="1000.00" x2="328.75" y2="1000.00" stroke="#000" stroke-width="1" stroke-dasharray="4 4"/>
<rect x="302.35" y="970.40" width="26.40" height="24.20" fill="#fff" stroke="#000" stroke-width="1"/>
<circle cx="315.55" cy="987.7" r="4.2" fill="#000"/>
<circle cx="315.55" cy="922.2" r="3.3" fill="none" stroke="#000" stroke-width="1.1"/>
<circle cx="315.55" cy="923.6" r="3.3" fill="none" stroke="#000" stroke-width="1.1"/>
<path d="M472.10 775.40C471.95 777.33 471.43 783.40 471.20 787.00C470.97 790.60 470.82 793.83 470.70 797.00C470.58 800.17 470.52 803.00 470.50 806.00C470.48 809.00 470.57 811.98 470.60 815.00C470.63 818.02 470.77 821.13 470.70 824.10C470.63 827.07 470.65 829.55 470.20 832.80C469.75 836.05 468.80 840.35 468.00 843.60C467.20 846.85 466.73 849.42 465.40 852.30C464.07 855.18 462.17 858.02 460.00 860.90C457.83 863.78 454.93 866.72 452.40 869.60C449.87 872.48 447.15 875.32 444.80 878.20C442.45 881.08 439.92 884.18 438.30 886.90C436.68 889.62 435.75 892.33 435.10 894.50C434.45 896.67 434.15 897.55 434.40 899.90C434.65 902.25 436.78 905.72 436.60 908.60C436.42 911.48 433.98 914.68 433.30 917.20C432.62 919.72 432.28 921.17 432.50 923.70C432.72 926.23 433.17 929.15 434.60 932.40C436.03 935.65 438.97 939.95 441.10 943.20C443.23 946.45 445.15 949.02 447.40 951.90C449.65 954.78 452.32 957.62 454.60 960.50C456.88 963.38 458.87 966.32 461.10 969.20C463.33 972.08 466.32 975.28 468.00 977.80C469.68 980.32 470.52 981.95 471.20 984.30C471.88 986.65 471.95 990.63 472.10 991.90L472.10 991.90C472.25 990.63 472.32 986.65 473.00 984.30C473.68 981.95 474.52 980.32 476.20 977.80C477.88 975.28 480.87 972.08 483.10 969.20C485.33 966.32 487.32 963.38 489.60 960.50C491.88 957.62 494.55 954.78 496.80 951.90C499.05 949.02 500.97 946.45 503.10 943.20C505.23 939.95 508.17 935.65 509.60 932.40C511.03 929.15 511.48 926.23 511.70 923.70C511.92 921.17 511.58 919.72 510.90 917.20C510.22 914.68 507.78 911.48 507.60 908.60C507.42 905.72 509.55 902.25 509.80 899.90C510.05 897.55 509.75 896.67 509.10 894.50C508.45 892.33 507.52 889.62 505.90 886.90C504.28 884.18 501.75 881.08 499.40 878.20C497.05 875.32 494.33 872.48 491.80 869.60C489.27 866.72 486.37 863.78 484.20 860.90C482.03 858.02 480.13 855.18 478.80 852.30C477.47 849.42 477.00 846.85 476.20 843.60C475.40 840.35 474.45 836.05 474.00 832.80C473.55 829.55 473.57 827.07 473.50 824.10C473.43 821.13 473.57 818.02 473.60 815.00C473.63 811.98 473.72 809.00 473.70 806.00C473.68 803.00 473.62 800.17 473.50 797.00C473.38 793.83 473.23 790.60 473.00 787.00C472.77 783.40 472.25 777.33 472.10 775.40Z" fill="#bebebe" stroke="#000" stroke-width="1.1"/>
<line x1="472.10" y1="843.20" x2="472.10" y2="890.20" stroke="#000" stroke-width="1" stroke-dasharray="4 4"/>
<line x1="472.10" y1="932.40" x2="472.10" y2="968.70" stroke="#000" stroke-width="1" stroke-dasharray="4 4"/>
<line x1="458.90" y1="843.20" x2="485.30" y2="843.20" stroke="#000" stroke-width="1" stroke-dasharray="4 4"/>
<line x1="458.90" y1="968.70" x2="485.30" y2="968.70" stroke="#000" stroke-width="1" stroke-dasharray="4 4"/>
<rect x="458.90" y="890.20" width="26.40" height="42.20" fill="#fff" stroke="#000" stroke-width="1"/>
<circle cx="472.10" cy="911.2" r="4.2" fill="#000"/>
<circle cx="472.10" cy="798.1" r="3.3" fill="none" stroke="#000" stroke-width="1.1"/>
<circle cx="472.10" cy="814.4" r="3.3" fill="none" stroke="#000" stroke-width="1.1"/>
<path d="M629.00 860.30C628.92 861.20 628.92 864.00 628.50 865.70C628.08 867.40 627.33 868.78 626.50 870.50C625.67 872.22 624.87 874.17 623.50 876.00C622.13 877.83 619.73 879.68 618.30 881.50C616.87 883.32 615.58 885.32 614.90 886.90C614.22 888.48 614.20 889.63 614.20 891.00C614.20 892.37 615.47 893.73 614.90 895.10C614.33 896.47 612.85 897.60 610.80 899.20C608.75 900.80 605.33 902.87 602.60 904.70C599.87 906.53 596.45 908.60 594.40 910.20C592.35 911.80 591.15 913.17 590.30 914.30C589.45 915.43 589.07 915.87 589.30 917.00C589.53 918.13 591.47 919.50 591.70 921.10C591.93 922.70 590.87 924.77 590.70 926.60C590.53 928.43 590.08 930.27 590.70 932.10C591.32 933.93 592.18 935.78 594.40 937.60C596.62 939.42 600.58 941.18 604.00 943.00C607.42 944.82 611.83 946.67 614.90 948.50C617.97 950.33 620.80 952.18 622.40 954.00C624.00 955.82 623.82 957.58 624.50 959.40C625.18 961.22 625.93 963.07 626.50 964.90C627.07 966.73 627.53 968.57 627.90 970.40C628.27 972.23 628.52 974.08 628.70 975.90C628.88 977.72 628.95 980.40 629.00 981.30L629.00 981.30C629.05 980.40 629.12 977.72 629.30 975.90C629.48 974.08 629.73 972.23 630.10 970.40C630.47 968.57 630.93 966.73 631.50 964.90C632.07 963.07 632.82 961.22 633.50 959.40C634.18 957.58 634.00 955.82 635.60 954.00C637.20 952.18 640.03 950.33 643.10 948.50C646.17 946.67 650.58 944.82 654.00 943.00C657.42 941.18 661.38 939.42 663.60 937.60C665.82 935.78 666.68 933.93 667.30 932.10C667.92 930.27 667.47 928.43 667.30 926.60C667.13 924.77 666.07 922.70 666.30 921.10C666.53 919.50 668.47 918.13 668.70 917.00C668.93 915.87 668.55 915.43 667.70 914.30C666.85 913.17 665.65 911.80 663.60 910.20C661.55 908.60 658.13 906.53 655.40 904.70C652.67 902.87 649.25 900.80 647.20 899.20C645.15 897.60 643.67 896.47 643.10 895.10C642.53 893.73 643.80 892.37 643.80 891.00C643.80 889.63 643.78 888.48 643.10 886.90C642.42 885.32 641.13 883.32 639.70 881.50C638.27 879.68 635.87 877.83 634.50 876.00C633.13 874.17 632.33 872.22 631.50 870.50C630.67 868.78 629.92 867.40 629.50 865.70C629.08 864.00 629.08 861.20 629.00 860.30Z" fill="#bebebe" stroke="#000" stroke-width="1.1"/>
<line x1="629.00" y1="876.30" x2="629.00" y2="908.50" stroke="#000" stroke-width="1" stroke-dasharray="4 4"/>
<line x1="629.00" y1="935.50" x2="629.00" y2="964.90" stroke="#000" stroke-width="1" stroke-dasharray="4 4"/>
<line x1="615.80" y1="876.30" x2="642.20" y2="876.30" stroke="#000" stroke-width="1" stroke-dasharray="4 4"/>
<line x1="615.80" y1="964.90" x2="642.20" y2="964.90" stroke="#000" stroke-width="1" stroke-dasharray="4 4"/>
<rect x="615.80" y="908.50" width="26.40" height="27.00" fill="#fff" stroke="#000" stroke-width="1"/>
<circle cx="629.00" cy="920.5" r="4.2" fill="#000"/>
</g>
</svg></body></html>
